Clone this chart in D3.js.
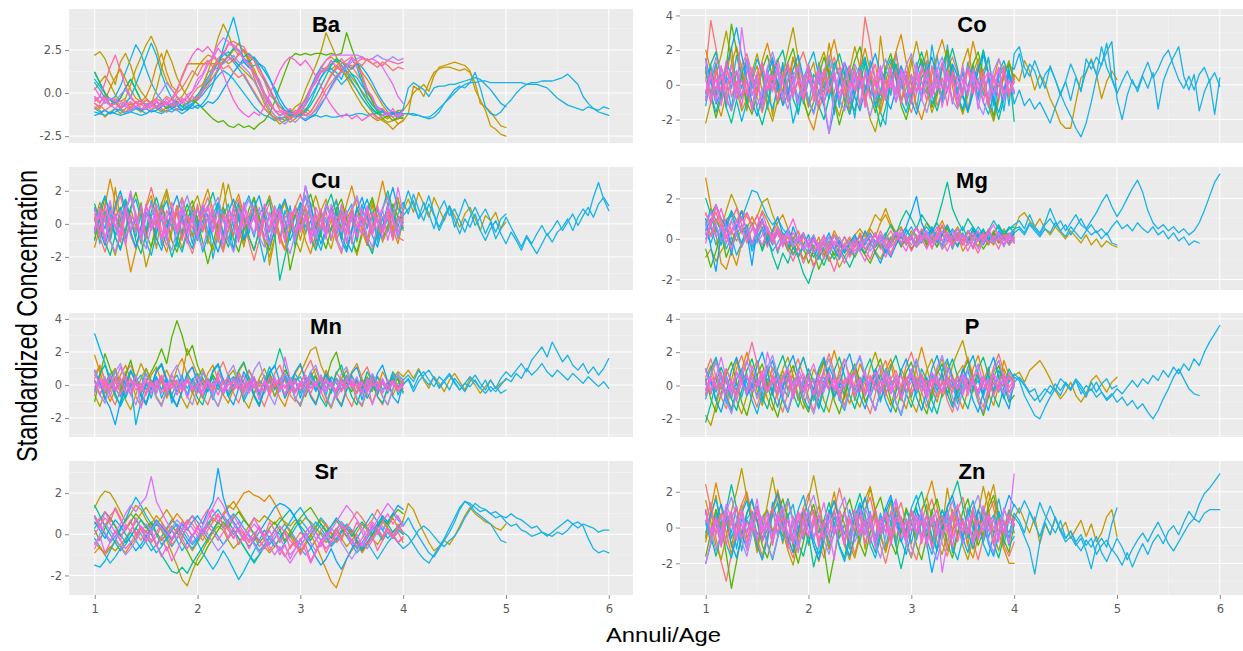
<!DOCTYPE html>
<html>
<head>
<meta charset="utf-8">
<script src="https://cdn.jsdelivr.net/npm/d3@7"></script>
<style>
  html, body { margin: 0; padding: 0; background: #ffffff; }
  svg { display: block; }
</style>
</head>
<body>
<script>
// Standardized trace-element profiles along otolith annuli, one line per fish.
// Every series starts at annulus 1 and is sampled every AGE_STEP annuli.
const AGE_START = 1;
const AGE_STEP = 0.05;
const xTicks = [1, 2, 3, 4, 5, 6];

const fishColors = ["#F8766D","#DE8C00","#B79F00","#53B400","#00C094","#00B6EB","#06A4FF","#A58AFF","#DF70F8","#FB61D7","#FF66A8","#F564E3"];
const GOLD = "#C49A00";
const CYAN = "#19B2E6";

// ---------------- Ba ----------------
const baTicks = [-2.5, 0, 2.5];
const baRange = [-2.9, 4.88];
const baShort = [
[-0.3,-0.6,-0.1,-0.7,-0.3,-0.8,-0.4,-0.9,-0.5,-1.0,
 -0.6,-1.0,-0.5,-0.9,-1.1,-0.6,-1.0,-0.4,-0.7,-0.1,
 0.3,0.5,1.2,1.4,2.0,2.3,2.9,3.0,2.8,2.7,
 2.1,1.9,1.2,0.7,-0.1,-0.4,-1.0,-1.1,-1.2,-1.2,
 -0.9,-0.7,0.2,0.6,1.3,1.4,1.9,1.5,2.0,1.6,
 1.6,1.1,0.7,0.0,-0.3,-0.9,-1.0,-1.4,-1.1,-1.5,
 -1.2],
[-0.6,-0.9,-0.4,0.3,0.9,1.4,0.8,0.2,-0.3,-0.5,
 -0.2,0.5,1.6,2.3,1.2,0.4,0.1,1.0,1.7,1.7,
 1.7,1.7,1.7,1.7,1.7,1.8,2.1,2.5,2.9,2.4,
 1.9,1.2,0.5,-0.2,-0.7,-1.0,-1.3,-1.1,-1.4,-1.0,
 -1.2,-0.9,-1.1,-0.6,-0.1,0.5,1.1,1.5,1.3,1.7,
 1.4,1.8,1.2,0.8,0.3,-0.2,-0.7,-1.1,-1.4,-1.8,
 -1.6],
[2.2,2.4,2.0,1.2,0.5,1.8,2.3,1.6,0.6,0.1,
 -0.3,-0.6,0.2,1.4,2.5,1.8,0.9,0.3,-0.2,-0.5,
 -0.3,0.4,1.2,2.1,3.2,4.0,3.4,2.6,2.2,2.5,
 1.8,0.9,0.1,-0.6,-1.1,-1.5,-1.8,-1.6,-1.2,-0.8,
 -0.6,0.2,0.9,1.6,2.4,3.5,2.8,2.1,1.4,0.9,
 0.3,-0.2,-0.7,-1.1,-1.4,-1.6,-1.5,-1.7,-1.6,-1.5,
 -1.4],
[1.2,0.6,0.0,-0.4,-0.6,-0.3,0.3,0.8,0.2,-0.4,
 -0.7,-0.5,-0.8,-0.6,-0.9,-0.7,-0.5,-0.8,-0.6,-0.4,
 -0.6,-0.9,-1.2,-1.5,-1.7,-1.6,-1.9,-2.0,-1.8,-2.0,
 -1.9,-2.1,-1.8,-1.6,-1.2,-0.5,0.4,1.2,2.0,2.3,
 2.2,2.3,2.2,2.3,2.3,2.2,2.3,2.2,2.3,3.5,
 2.6,1.8,0.9,0.2,-0.5,-1.1,-1.5,-1.3,-1.6,-1.4,
 -1.5],
[1.2,0.6,0.0,-0.4,-0.6,-0.3,0.3,0.8,0.2,-0.4,
 -0.7,-0.5,-0.8,-0.6,-0.9,-0.7,-0.5,-0.8,-0.6,-0.4,
 -0.1,0.3,0.6,0.9,1.3,1.8,2.2,2.6,2.5,2.1,
 2.3,2.0,1.5,0.8,0.2,-0.4,-0.8,-1.0,-1.3,-1.2,
 -1.4,-1.1,-0.7,-0.2,0.4,1.0,1.6,2.0,1.8,1.5,
 1.1,0.6,0.0,-0.5,-0.9,-1.2,-1.0,-1.3,-1.1,-1.2,
 -1.0],
[0.6,0.2,-0.3,-0.7,-0.5,-0.9,-0.6,-0.2,0.5,1.3,
 2.1,2.9,2.2,1.1,0.3,-0.3,-0.6,-0.8,-1.0,-0.7,
 -0.9,-0.6,-0.2,0.5,1.5,2.6,3.5,4.4,3.2,1.8,
 1.5,1.6,1.7,1.5,0.9,0.1,-0.6,-1.0,-1.2,-1.4,
 -1.3,-1.0,-0.5,0.2,0.9,1.3,1.4,1.2,0.8,1.6,
 2.0,1.5,0.6,-0.2,-0.7,-1.0,-1.1,-1.3,-1.2,-1.4,
 -1.3],
[-1.1,-1.2,-1.0,-1.2,-1.1,-0.9,-1.1,-1.0,-0.8,-1.0,
 -0.9,-1.1,-1.0,-0.8,-0.6,-0.9,-0.7,-1.0,-0.8,-0.9,
 -0.7,-0.8,-0.5,-0.6,-0.3,0.2,0.7,1.2,1.6,2.0,
 1.8,2.1,1.7,1.3,0.8,0.3,-0.3,-0.8,-1.1,-1.3,
 -1.4,-1.6,-1.4,-1.2,-0.7,-0.2,0.4,0.9,1.3,1.6,
 1.4,1.7,1.5,1.1,0.6,0.0,-0.5,-0.9,-1.2,-1.1,
 -1.3],
[-0.4,-0.2,-0.6,-0.3,-0.5,-0.1,0.2,-0.3,-0.6,-0.4,
 -0.7,-0.5,-0.3,0.1,0.6,0.2,-0.2,-0.5,-0.7,-0.4,
 -0.2,0.2,0.8,1.3,1.5,1.7,1.9,2.2,1.8,1.5,
 1.2,0.7,0.1,-0.4,-0.9,-1.3,-1.6,-1.8,-1.5,-1.7,
 -1.4,-1.5,-1.3,-1.0,-0.6,-0.2,0.3,0.8,1.2,1.5,
 1.8,2.0,2.1,1.9,2.0,2.2,2.0,1.9,2.1,1.9,
 2.0],
[-0.6,-0.8,-0.5,-0.7,-0.9,-0.6,-0.8,-1.0,-0.8,-0.6,
 -0.9,-0.7,-0.5,-0.8,-0.6,-0.4,-0.7,-0.5,-0.3,0.1,
 0.5,1.0,1.6,2.2,2.8,3.2,3.0,2.7,2.4,2.0,
 1.6,1.1,0.5,-0.1,-0.6,-1.0,-1.3,-1.2,-1.5,-1.3,
 -1.1,-0.6,0.1,0.8,1.4,1.9,2.2,2.2,2.2,2.2,
 2.2,2.2,2.1,1.9,2.0,1.8,1.5,1.0,0.5,-0.2,
 -0.6],
[-0.2,-0.5,-0.3,-0.7,-0.6,-0.9,-0.7,-0.5,-0.8,-0.6,
 -0.4,-0.6,-0.8,-0.5,-0.7,-0.3,0.2,0.9,1.6,2.2,
 2.6,2.4,2.7,2.3,1.8,1.1,0.3,-0.4,-0.9,-1.2,
 -1.4,-1.1,-1.3,-0.8,-0.1,0.6,1.3,1.8,2.1,1.9,
 1.6,1.9,1.5,1.0,0.4,-0.2,-0.7,-1.1,-1.4,-1.2,
 -1.5,-1.3,-1.6,-1.4,-1.2,-1.5,-1.3,-1.1,-1.4,-1.2,
 -1.3],
[-0.5,-0.2,0.6,1.5,2.2,1.3,0.4,-0.2,-0.6,-0.4,
 -0.8,-0.6,-0.9,-0.7,-0.5,-0.8,-0.6,-0.3,-0.5,-0.2,
 -0.4,0.1,0.4,0.9,1.4,1.9,2.1,1.8,2.3,2.5,
 2.2,1.9,1.4,0.9,0.3,-0.3,-0.8,-1.1,-0.9,-1.2,
 -1.0,-1.3,-1.1,-0.6,-0.1,0.5,1.0,1.4,1.7,1.9,
 2.1,1.8,2.0,1.9,1.7,1.8,1.6,1.9,1.8,1.7,
 1.8],
[0.3,-0.2,-0.3,-0.3,-0.5,-0.5,-0.6,-1.0,-0.5,-0.9,
 -0.9,-0.8,-0.4,-0.8,-0.3,-0.7,-0.2,-0.6,-0.1,0.1,
 0.8,1.1,1.8,2.0,2.6,2.2,2.8,2.8,2.5,1.9,
 1.7,1.1,0.8,0.0,-0.4,-1.0,-1.1,-1.1,-1.2,-1.2,
 -0.7,-0.5,0.3,0.6,1.2,1.3,1.9,1.5,1.4,1.6,
 2.0,1.5,1.1,0.2,-0.2,-0.9,-0.9,-1.3,-0.9,-1.4,
 -1.0],
[-0.9,-0.7,-1.0,-0.8,-0.6,-0.9,-1.1,-0.8,-0.5,-0.7,
 -0.4,-0.6,-0.3,-0.5,-0.2,-0.4,0.0,0.3,0.8,1.3,
 1.0,1.6,1.9,1.5,1.8,1.4,1.6,1.2,0.9,1.1,
 0.6,0.1,-0.4,-0.9,-1.2,-1.4,-1.6,-1.3,-1.5,-1.2,
 -1.4,-1.1,-1.3,-0.9,-0.4,0.2,0.6,1.0,1.3,1.1,
 1.5,1.8,1.6,2.0,1.7,1.5,1.8,1.6,1.3,1.5,
 1.4]
];
const baLong = [
[-0.8,-1.0,-1.4,-1.1,-0.9,-1.2,-0.9,-0.6,-0.9,-1.1,
 -0.8,-0.5,-0.9,-1.1,-0.8,-0.6,-0.4,-0.2,0.3,0.9,
 1.5,1.9,2.2,2.1,1.8,2.0,1.7,1.9,1.6,1.3,
 1.0,0.7,0.2,-0.4,-0.9,-1.3,-1.5,-1.4,-1.7,-1.5,
 -1.2,-0.6,0.1,0.8,1.2,1.5,1.4,1.6,1.3,1.0,
 0.6,0.2,-0.3,-0.7,-1.1,-1.4,-1.6,-1.8,-2.1,-1.8,
 -1.6,
 -1.2,0.4,0.2,0.5,0.1,1.0,1.5,1.6,1.7,1.8,
 1.7,1.6,1.3,0.2,-0.4,-1.0,-1.9,-2.1,-2.4,-2.5],
[0.2,0.6,1.0,0.5,-0.1,-0.5,-0.3,0.5,1.4,2.1,
 2.8,3.3,2.6,1.5,0.7,0.2,-0.2,-0.6,-0.9,-0.7,
 -0.4,0.1,0.6,1.2,1.8,2.4,2.1,1.9,2.2,2.5,
 2.0,1.4,0.7,0.0,-0.6,-1.0,-1.3,-1.1,-1.4,-1.2,
 -0.8,-0.3,0.3,0.9,1.5,1.9,2.1,1.8,1.6,1.3,
 0.9,0.5,0.1,-0.3,-0.7,-1.0,-1.3,-1.5,-1.2,-1.0,
 -1.0,
 -0.6,0.0,0.3,-0.2,0.6,1.2,1.4,1.5,1.5,1.4,
 1.3,1.4,1.2,0.6,-0.6,-0.8,-1.1,-1.5,-1.9,-2.0],
[0.8,0.4,0.0,-0.4,-0.2,0.4,1.2,2.0,2.8,2.3,
 1.4,0.6,0.0,-0.4,-0.6,-0.9,-0.7,-1.0,-0.8,-0.6,
 -0.2,0.4,0.9,1.3,1.8,2.2,2.4,2.0,1.6,1.8,
 1.5,1.2,0.6,0.0,-0.6,-1.0,-1.3,-1.2,-1.0,-1.3,
 -1.1,-0.7,-0.2,0.3,0.9,1.4,1.2,0.9,0.5,0.8,
 1.1,0.9,0.4,0.0,-0.4,-0.8,-1.0,-1.2,-1.1,-1.3,
 -0.9,
 0.3,0.6,0.4,0.2,-0.2,0.3,0.4,0.4,0.5,0.5,
 0.6,0.7,0.8,0.9,0.8,0.5,0.2,-0.2,-0.6,-0.8],
[-0.9,-1.1,-1.0,-1.2,-0.9,-1.0,-1.2,-1.1,-0.9,-1.0,
 -1.2,-1.0,-0.8,-1.0,-1.1,-0.9,-1.0,-1.2,-1.0,-0.7,
 -0.3,0.2,0.8,1.5,2.0,2.3,2.1,1.8,1.4,1.0,
 0.5,0.0,-0.5,-0.9,-1.2,-1.5,-1.4,-1.6,-1.5,-1.3,
 -0.9,-0.4,0.3,1.0,1.5,1.3,1.7,1.9,1.6,1.2,
 0.7,0.2,-0.3,-0.7,-1.0,-1.2,-1.1,-1.3,-1.2,-1.1,
 -1.2,
 -1.2,-1.3,-1.3,-1.4,-1.5,-1.4,-1.1,-0.6,-0.2,0.2,
 0.4,0.3,0.6,1.2,0.3,-0.8,-1.2,-1.3,-1.1,-0.7,
 -0.4,0.0,0.3,0.5,0.6,0.6,0.7,0.7,0.7,0.8,
 0.9,1.1,0.8,0.5,-0.2,-0.6,-0.9,-1.1,-1.2,-1.3],
[-1.3,-1.2,-1.3,-1.1,-1.2,-1.3,-1.2,-1.1,-1.2,-1.3,
 -1.2,-1.0,-1.1,-1.2,-1.0,-1.1,-0.9,-1.0,-0.8,-0.6,
 -0.4,-0.1,0.3,0.6,1.0,1.3,1.1,0.8,0.4,0.0,
 -0.4,-0.8,-1.1,-1.3,-1.4,-1.6,-1.5,-1.4,-1.5,-1.3,
 -1.2,-1.3,-1.4,-1.3,-1.4,-1.3,-1.4,-1.4,-1.3,-1.3,
 -1.3,-1.2,-1.2,-1.3,-1.2,-1.2,-1.3,-1.2,-1.2,-1.2,
 -1.2,
 -1.2,-1.2,-1.3,-1.4,-1.4,-1.2,-0.9,-0.6,-0.3,0.0,
 0.3,0.5,0.6,0.6,0.7,0.7,0.6,0.6,0.6,0.6,
 0.6,0.6,0.6,0.5,0.5,0.5,0.4,0.3,0.0,-0.3,
 -0.5,-0.7,-0.8,-0.9,-1.0,-0.8,-0.9,-1.0,-0.8,-0.9]
];
const baLongColors = [GOLD, GOLD, CYAN, CYAN, CYAN];

// ---------------- Co ----------------
const coTicks = [-2, 0, 2, 4];
const coRange = [-3.35, 4.37];
const coShort = [
[0.9,3.7,2.1,0.4,-0.8,-1.5,-0.2,1.1,1.8,0.6,
 -0.7,-1.6,-0.4,0.9,1.5,0.3,-1.0,-0.3,1.2,1.9,
 0.8,-0.5,-1.4,-0.6,0.7,1.6,0.5,-0.9,-1.7,-0.4,
 1.0,3.9,2.3,0.2,-1.1,-0.3,1.0,1.7,0.4,-0.8,
 -1.6,-0.5,0.8,1.4,0.2,-1.2,-0.4,0.9,1.6,0.7,
 -0.6,-1.4,-0.2,1.1,0.3,-1.0,-1.8,-0.6,0.8,1.3,
 0.4],
[2.0,0.8,-0.9,-1.8,-0.5,1.2,2.2,1.0,-0.4,-1.3,
 -0.2,1.4,2.4,1.1,-0.3,-1.1,0.2,1.6,0.5,-0.8,
 -1.9,-2.6,-1.2,0.3,1.5,2.6,1.2,-0.2,-1.5,-0.6,
 0.9,2.1,0.8,-0.7,-1.6,-0.4,0.8,1.9,2.9,1.3,
 0.1,-1.2,-2.0,-0.9,0.6,1.7,2.6,1.4,-0.1,-1.3,
 -0.5,0.9,2.5,1.2,-0.2,-1.1,0.3,1.5,0.6,-0.7,
 0.6],
[-2.2,-1.0,0.6,1.7,3.1,1.4,-0.2,-1.5,-0.8,0.7,
 1.8,0.5,-1.2,-2.1,-0.9,0.6,2.0,3.3,1.5,0.0,
 -1.3,-0.4,1.1,1.9,0.7,-0.9,-1.8,-0.6,0.8,2.2,
 1.0,-0.5,-2.0,-2.7,-1.3,0.2,1.3,0.4,-1.0,-0.2,
 1.2,2.5,1.1,-0.3,-1.6,-0.7,0.9,1.8,0.6,-0.8,
 -1.7,-0.6,0.7,1.5,0.3,-1.2,-2.1,-0.9,0.5,1.4,
 0.1],
[0.8,-0.6,-1.9,-0.7,1.0,3.5,2.0,0.5,-1.0,-1.7,
 -0.5,0.9,1.7,0.4,-1.1,-0.3,1.3,2.1,0.7,-0.9,
 -1.8,-1.0,0.5,1.6,0.6,-1.0,-2.3,-1.2,0.4,1.4,
 2.2,0.9,-0.6,-1.6,-0.4,1.0,1.8,0.5,-1.2,-2.0,
 -0.8,0.6,1.5,0.3,-1.3,-0.5,1.1,2.0,0.8,-0.7,
 -1.5,-0.3,1.2,1.9,0.6,-0.9,-1.8,-0.7,0.6,1.2,
 0.3],
[-0.5,1.2,1.9,0.4,-1.3,-2.2,-0.9,0.6,1.5,0.2,
 -1.4,-2.3,-1.1,0.5,1.4,2.0,0.6,-0.8,-1.6,-0.3,
 1.1,0.2,-1.2,-2.0,-0.7,0.9,1.8,0.7,-0.9,-1.5,
 0.1,1.3,0.4,-1.1,-2.4,-1.3,0.3,1.2,0.2,-1.0,
 -0.3,1.0,1.9,0.8,-0.6,-1.5,-0.4,1.0,2.1,0.9,
 -0.7,-1.6,-0.5,0.8,2.0,0.7,-0.9,-2.0,-0.8,0.9,
 -2.1],
[1.0,-0.5,-1.6,-0.4,1.3,0.6,-0.9,-2.1,-1.0,0.4,
 1.5,0.7,-0.6,-1.4,-0.2,1.1,-0.3,-2.2,-1.1,0.3,
 1.2,1.9,0.5,-1.0,-0.1,1.3,0.4,-0.8,-1.7,-0.5,
 0.9,1.6,0.2,-1.2,-0.4,0.8,1.5,0.3,-0.9,-1.6,
 -0.5,0.7,1.3,0.1,-1.1,-0.3,1.0,1.7,0.5,-0.6,
 -1.4,-0.2,0.9,0.2,-1.0,-1.7,-0.6,0.7,1.4,0.4,
 -0.4],
[1.5,0.2,-1.1,-0.4,1.0,2.1,3.3,1.7,0.3,-1.0,
 -1.8,-0.7,0.6,1.4,0.1,-1.2,-0.5,0.9,1.7,0.4,
 -0.9,-1.6,-0.3,-1.2,-2.8,-1.4,0.1,1.3,0.5,-0.7,
 -1.5,-0.3,1.0,1.8,0.6,-0.8,-1.4,-0.2,1.1,0.3,
 -0.9,-1.7,-0.6,0.8,1.6,0.4,-1.1,-0.3,1.2,0.5,
 -0.6,-1.5,-0.4,0.9,1.7,0.6,-0.8,-1.6,-0.5,0.8,
 -0.5],
[-0.9,0.5,1.6,0.6,-0.7,-1.5,-0.3,0.9,1.5,0.2,
 -1.2,-0.4,1.0,1.9,0.7,-0.6,-1.4,-0.2,1.1,0.4,
 -0.9,-1.7,-0.5,0.8,1.7,0.5,-0.8,-1.5,-0.1,1.2,
 0.5,-0.9,-1.8,-0.6,0.7,1.5,0.3,-1.0,-0.2,1.1,
 1.8,0.6,-0.8,-1.6,-0.4,0.9,1.6,0.4,-0.9,-1.4,
 -0.2,1.0,0.3,-1.1,-1.7,-0.5,0.8,1.5,0.6,-0.6,
 0.2],
[1.5,-0.8,0.4,-1.2,0.9,0.2,-0.5,3.3,1.1,-0.6,
 0.5,-1.3,0.8,-0.2,1.2,-0.9,0.4,0.6,-1.1,0.3,
 1.0,-0.5,0.7,-0.9,-2.8,-0.4,0.6,1.3,-0.3,0.5,
 -1.2,0.8,0.1,-0.7,1.1,-0.4,0.3,-1.0,0.9,0.2,
 -0.5,1.2,-0.9,0.4,-0.2,1.0,-1.3,0.5,0.2,-0.8,
 1.1,-0.3,0.6,-1.4,0.2,0.8,-0.6,1.0,-0.9,0.3,
 -0.5],
[-0.9,0.6,-0.3,1.1,-1.0,0.4,0.8,-0.6,0.2,-1.5,
 0.7,1.3,-0.4,0.5,-0.9,0.2,1.0,-0.7,0.4,-0.2,
 1.2,-1.0,0.3,0.8,-0.5,0.6,-0.8,0.1,1.1,-0.3,
 0.5,-1.3,0.9,-0.1,0.4,-0.9,1.0,-0.6,0.3,0.8,
 -1.1,0.4,-0.3,0.9,-0.7,0.2,1.3,-0.4,0.6,-1.2,
 0.3,0.9,-0.5,0.2,-1.0,0.7,0.4,-0.8,1.0,-0.4,
 0.2],
[0.3,-1.1,0.9,-0.4,1.4,-0.7,0.2,-1.3,0.8,0.5,
 -0.6,1.1,-0.2,0.6,-1.0,0.4,1.3,-0.5,0.2,-0.9,
 0.7,0.3,-1.2,0.9,-0.4,0.5,1.0,-0.7,0.2,-0.3,
 0.8,-1.0,0.4,1.2,-0.6,0.3,-0.2,0.9,-1.1,0.5,
 -0.4,0.7,0.2,-0.9,1.1,-0.3,0.4,-1.2,0.8,0.1,
 -0.6,1.0,-0.4,0.3,0.8,-1.3,0.5,-0.1,0.7,-0.6,
 0.5],
[-0.4,0.7,-1.0,0.5,-0.3,1.2,-0.8,0.3,-0.6,1.0,
 0.2,-1.2,0.6,-0.4,0.9,0.3,-0.9,0.5,1.1,-0.7,
 0.4,-0.2,1.0,-1.0,0.3,0.7,-0.5,0.2,-1.1,0.8,
 -0.2,0.6,-0.8,0.4,1.0,-0.6,0.2,-0.3,0.9,-1.0,
 0.6,-0.5,1.1,0.1,-0.7,0.4,-0.2,0.8,-1.0,0.5,
 0.2,-0.6,0.9,-0.3,0.5,-0.9,0.3,1.0,-0.5,0.2,
 -0.3]
];
const coLong = [
[0.7,-0.6,1.3,-1.1,0.4,2.2,-0.3,0.8,-1.5,0.3,
 1.1,-0.4,0.6,-1.8,0.2,0.9,-0.7,1.6,0.1,-0.9,
 0.5,1.3,-0.6,0.3,2.4,0.6,-1.0,0.4,-0.3,1.0,
 -1.4,0.7,0.2,-0.8,2.8,0.5,-0.5,1.2,-0.9,0.3,
 1.6,-0.4,0.7,2.0,-0.2,0.4,-1.1,0.9,0.3,-0.6,
 1.2,2.1,0.4,-0.7,0.8,1.5,-0.3,0.6,1.1,-0.5,
 0.6,
 0.2,1.4,0.8,-0.3,0.6,0.1,-0.8,-1.4,-2.2,-2.5,
 -2.5,-1.0,0.4,0.7,1.5,0.6,-0.8,0.2,0.8,0.3],
[-1.2,0.4,-0.7,1.0,0.3,-1.4,0.8,-0.2,1.5,-0.6,
 0.2,-1.0,0.9,1.6,-0.3,0.4,-0.9,0.7,-1.7,0.3,
 0.9,-0.5,1.3,0.2,-0.8,0.5,-1.3,0.6,1.1,-0.4,
 0.2,-0.9,1.4,0.3,-1.6,-2.3,0.5,1.0,-0.2,0.6,
 -0.8,1.3,0.2,-0.5,2.3,0.6,-1.0,0.4,1.1,-0.3,
 0.7,-1.5,0.2,1.2,-0.6,0.4,-2.0,0.5,0.9,-1.2,
 1.8,
 2.2,1.0,0.5,1.4,0.6,-0.2,1.1,0.3,-0.6,0.2,
 1.2,0.5,-0.4,1.5,0.9,1.6,1.1,2.4,0.4,-0.4],
[0.4,1.1,-0.5,0.2,-1.3,0.7,0.1,-0.8,1.2,-0.2,
 0.6,-1.5,0.3,0.8,-0.4,1.3,-0.7,0.2,0.9,-1.1,
 0.3,-0.6,1.0,-0.2,0.5,-1.7,0.4,1.2,-0.3,-1.9,
 0.6,1.5,-0.5,0.2,-1.0,0.8,0.3,-0.4,1.0,-1.2,
 0.5,0.1,-0.7,1.4,-0.3,0.6,-1.0,2.3,0.2,-0.5,
 0.8,-0.2,1.2,-0.9,0.4,1.6,-0.4,0.3,-1.5,0.7,
 -1.1,
 -0.3,-1.2,-0.8,-1.4,-1.0,-1.6,-2.2,-1.3,-0.5,-1.2,
 -1.8,-2.5,-3.0,-2.2,-1.0,0.4,1.2,1.9,2.5,-0.8,
 -2.0,-0.6,0.3,-0.4,0.5,-0.2,0.7,-1.4,0.2,1.0,
 1.6,2.2,0.5,-0.3,0.6,-1.5,-0.4,0.3,-1.7,0.4],
[-0.7,0.3,1.2,-0.9,0.5,-0.2,1.7,0.4,-1.0,0.6,
 -0.3,0.9,-1.4,0.2,0.7,-0.6,1.1,0.3,-0.8,0.5,
 -1.2,0.6,0.1,-0.4,1.4,-0.9,0.2,0.8,-1.6,0.4,
 1.1,-0.2,0.5,-1.3,0.9,0.3,-0.6,1.9,0.1,-0.7,
 0.6,-1.4,0.4,1.0,-0.5,1.7,-0.2,0.6,-1.1,0.8,
 -0.4,1.3,0.3,-0.8,2.0,0.5,-1.2,0.7,-0.3,1.1,
 0.9,
 1.8,0.4,1.2,0.8,-0.2,0.6,1.0,0.3,-0.5,0.2,
 -0.9,0.4,-0.3,0.8,1.4,0.6,2.2,1.0,0.3,-0.5,
 0.2,0.8,0.1,-0.2,0.6,1.3,0.4,0.9,1.6,2.0,
 1.1,0.3,-0.2,0.5,-0.3,0.6,1.0,0.2,0.7,-0.1]
];
const coLongColors = [GOLD, CYAN, CYAN, CYAN];

// ---------------- Cu ----------------
const cuTicks = [-2, 0, 2];
const cuRange = [-4.0, 3.44];
const cuShort = [
[0.6,-0.8,-1.7,-0.6,0.9,1.7,0.5,-0.7,-1.5,-0.2,
 1.1,2.2,1.0,-0.4,-1.3,-0.2,1.1,0.3,-1.0,-1.8,
 -0.6,0.8,1.6,0.5,-0.9,-1.7,-0.4,0.9,1.5,0.2,
 -1.1,-2.2,-1.0,0.4,1.3,0.3,-0.9,-1.6,-0.3,1.0,
 1.8,0.6,-0.7,-1.4,-0.2,1.2,0.4,-1.0,-1.8,-0.5,
 0.8,1.5,0.3,-1.1,-1.6,-0.4,0.9,1.7,0.5,-0.8,
 -1.0],
[-1.4,-0.2,1.1,2.7,1.3,-0.1,-1.2,-2.9,-1.6,-0.3,
 1.0,1.7,0.4,-0.9,-1.7,-0.5,0.8,1.6,0.5,-0.8,
 -0.1,1.2,2.1,0.8,-0.6,-1.5,-0.3,1.0,1.8,0.5,
 -0.8,-1.6,-0.4,0.9,1.7,0.6,-0.7,-1.5,-0.2,1.1,
 0.3,-1.0,-1.8,-0.6,0.8,1.5,0.3,-1.0,-0.2,1.2,
 2.3,1.0,-0.4,-1.3,-0.1,1.2,2.6,1.1,-0.3,-1.2,
 0.3],
[0.2,1.3,0.4,-1.0,-1.9,-0.6,0.8,1.8,0.6,-0.9,
 -2.6,-1.4,0.1,1.2,2.1,0.8,-0.5,-1.5,-0.3,1.0,
 1.7,0.5,-0.9,-1.6,-0.3,1.1,2.4,1.0,-0.4,-1.3,
 -0.1,1.0,0.2,-1.1,-2.0,-0.8,0.5,1.4,0.3,-0.9,
 -1.7,-0.5,0.8,1.7,0.6,-0.8,-1.5,-0.2,1.1,0.3,
 -1.0,-1.9,-0.7,0.6,1.4,0.2,-1.1,-0.3,1.0,1.6,
 -0.4],
[-0.9,0.4,1.6,0.5,-0.8,-1.5,-0.3,1.0,1.9,0.7,
 -0.6,-1.4,-0.2,1.1,0.3,-1.0,-1.7,-0.5,0.8,1.4,
 0.2,-1.1,-2.4,-1.2,0.1,1.0,0.2,-0.9,-1.7,-0.4,
 0.9,1.6,0.4,-0.9,-1.6,-0.3,1.0,-0.4,-2.8,-1.4,
 0.0,1.1,1.8,0.6,-0.7,-1.5,-0.3,0.9,1.5,0.3,
 -1.0,-1.7,-0.5,0.8,1.6,0.4,-0.9,-0.1,1.2,0.4,
 0.4],
[1.2,0.1,-1.1,-1.9,-0.7,0.8,1.5,0.3,-1.0,-1.8,
 -0.6,0.7,1.6,0.5,-0.8,-2.0,-1.0,0.3,1.2,0.2,
 -1.0,-0.2,1.0,1.9,0.7,-0.6,-1.4,-0.2,1.1,0.4,
 -0.8,-1.6,-0.4,0.9,1.5,-0.6,-3.4,-2.0,-0.6,0.5,
 1.3,0.3,-0.9,-1.6,-0.4,1.0,1.8,0.6,-0.7,-1.5,
 -0.3,1.0,0.2,-1.1,-1.8,-0.5,0.9,2.0,0.8,-0.5,
 -0.2],
[-0.3,0.9,1.7,0.5,-0.8,-1.6,-0.4,0.9,1.5,0.3,
 -1.1,-1.9,-0.6,0.7,1.4,0.2,-1.0,-1.7,-0.5,0.8,
 -0.1,-1.7,-0.8,0.5,1.3,0.3,-0.9,-1.5,-0.3,1.0,
 1.7,0.5,-0.9,-2.3,-1.1,0.3,1.2,0.2,-1.0,-0.2,
 1.0,1.7,0.5,-0.8,-1.6,-0.4,0.9,1.4,0.2,-1.0,
 -1.7,-0.5,0.7,1.5,0.4,-0.9,-0.2,1.0,0.3,-0.8,
 0.1],
[0.9,-0.4,-1.3,-0.2,1.1,2.0,0.8,-0.5,-1.4,-0.2,
 1.0,0.3,-0.9,-1.6,-0.4,0.9,1.7,0.5,-0.8,-1.5,
 -0.3,1.1,0.4,-0.9,-1.7,-0.6,0.7,1.5,0.3,-1.0,
 -0.2,1.0,1.7,0.4,-1.3,-0.5,0.8,1.5,0.4,-0.9,
 0.5,2.3,1.1,-0.2,-1.2,-0.3,1.0,0.2,-1.0,-1.7,
 -0.5,0.8,1.6,0.5,-0.7,-1.4,-0.2,1.1,2.2,0.9,
 0.6],
[-0.5,1.0,0.2,-1.0,-1.7,-0.5,0.8,1.6,0.4,-0.8,
 -1.5,-0.2,1.2,0.4,-0.9,-1.6,-0.4,0.9,1.7,0.6,
 -0.7,-1.5,-0.3,1.0,1.6,0.3,-0.9,-1.7,-0.6,0.7,
 1.5,0.4,-0.8,-1.4,-0.2,1.1,0.3,-1.0,-1.8,-0.6,
 0.8,1.6,0.4,-0.9,-0.1,1.2,0.5,-0.8,-1.6,-0.4,
 0.9,1.7,0.5,-0.7,-1.4,-0.2,1.0,1.6,0.4,-0.9,
 0.7],
[0.9,-0.6,0.3,1.4,-0.2,-1.1,0.6,2.0,0.4,-0.7,
 1.1,-0.4,0.5,-1.0,0.8,0.2,-0.6,1.5,-0.2,0.4,
 -0.9,1.2,0.3,-0.5,0.8,-1.4,0.6,0.1,-0.8,1.3,
 0.2,-0.6,1.0,-0.3,-1.3,0.5,0.9,-0.2,0.6,-1.0,
 0.4,2.3,0.7,-0.6,0.3,-0.9,1.2,0.2,-0.5,0.8,
 -1.2,0.6,-0.2,1.1,-0.7,0.4,0.9,-1.0,0.3,2.2,
 0.6],
[-0.5,1.0,-0.9,0.4,-0.2,0.8,-1.3,0.5,0.1,-0.6,
 1.2,-0.3,0.7,-0.8,0.3,1.3,-0.5,0.2,-1.2,0.6,
 0.9,-0.4,1.1,0.2,-0.7,0.5,-0.3,1.0,-1.1,0.6,
 -0.2,0.4,-0.8,1.2,0.3,-0.6,0.8,-1.0,0.4,1.0,
 -0.3,0.6,-1.2,0.2,0.9,-0.4,0.5,-0.9,1.2,-0.1,
 0.4,-0.8,0.9,0.2,-0.6,1.1,-0.3,0.5,-1.0,0.3,
 0.7],
[0.4,-0.7,1.2,-0.2,0.6,-1.1,0.9,0.2,-0.5,1.1,
 -0.9,0.3,-0.2,1.0,-0.6,0.4,0.8,-1.0,0.5,-0.3,
 1.2,-0.5,0.3,0.9,-1.1,0.6,0.1,-0.7,1.0,-0.2,
 0.5,1.1,-0.8,0.3,-0.4,0.9,-1.2,0.4,0.7,-0.5,
 0.2,1.1,-0.7,0.5,-0.3,0.8,-1.0,0.3,0.6,-0.6,
 1.0,-0.2,0.4,-1.1,0.7,0.2,-0.5,0.9,-0.8,0.4,
 -0.1],
[-0.2,0.5,-1.1,0.8,0.3,-0.6,1.0,-0.4,0.6,-0.9,
 0.4,1.2,-0.3,0.5,-1.0,0.7,-0.2,0.9,-0.6,0.3,
 -0.8,0.6,1.1,-0.4,0.2,-1.0,0.8,0.4,-0.6,1.2,
 -0.3,0.5,0.1,-0.9,0.7,-0.2,0.6,-1.1,0.3,0.9,
 -0.5,0.4,-0.9,1.0,0.2,-0.6,0.8,-0.3,0.5,-1.2,
 0.6,0.2,-0.7,0.9,-0.4,0.3,-0.9,1.1,0.2,-0.5,
 0.4]
];
const cuLong = [
[1.0,-0.4,0.5,-1.0,2.2,0.3,-0.6,0.9,-0.2,1.3,
 -0.8,0.4,-1.5,0.6,1.9,-0.3,0.7,-0.9,0.2,1.1,
 -0.5,0.8,-1.2,0.3,0.9,2.5,0.4,-0.7,0.6,-1.4,
 0.2,1.0,-0.5,0.7,-2.5,-0.9,0.5,1.3,-0.2,0.6,
 -1.0,0.4,1.2,-0.3,0.8,-0.7,0.2,1.5,-0.6,0.3,
 0.9,-1.1,0.5,-0.2,1.2,-0.8,0.4,0.7,-0.4,1.4,
 0.8,
 1.5,0.7,1.9,1.2,0.4,1.6,0.9,0.2,1.1,0.5,
 -0.2,0.6,1.0,0.3,-0.4,0.5,0.2,0.7,-0.3,0.1],
[-1.0,0.6,-0.3,1.1,-0.8,0.2,1.4,-0.5,0.3,-1.2,
 0.7,0.1,-0.6,1.3,-0.2,0.5,-1.4,0.8,0.3,-0.7,
 1.0,-0.3,0.4,-2.1,-0.6,0.5,1.2,-0.2,0.7,-0.9,
 0.3,1.6,-0.4,0.6,-1.1,0.2,0.9,-0.5,1.1,-0.8,
 0.4,-0.2,1.3,-0.7,0.5,0.1,-1.0,0.8,-0.3,0.6,
 1.2,-0.5,0.2,-1.3,0.7,1.0,-0.4,0.3,-0.9,0.6,
 1.3,
 0.6,1.8,0.9,0.2,1.2,0.5,-0.4,0.3,1.0,-0.2,
 0.6,1.5,0.8,-0.1,0.4,0.9,0.2,-0.5,0.3,0.6],
[0.3,-1.2,0.8,-0.5,0.4,1.0,-0.9,0.2,-0.4,1.2,
 -0.6,0.5,0.9,-1.3,0.3,-0.2,1.1,-0.7,0.4,0.8,
 -1.0,0.2,0.6,-0.4,1.3,-0.8,0.3,-1.6,0.5,0.2,
 -0.6,1.1,0.4,-0.9,0.7,-0.3,1.0,-0.5,0.3,-1.4,
 0.6,0.9,-0.4,0.2,-0.8,1.1,0.4,-0.6,0.8,-0.2,
 0.5,-1.0,0.7,0.3,-0.6,0.9,-0.3,1.2,-0.7,0.2,
 0.5,
 0.9,1.4,0.3,0.8,1.7,0.6,-0.2,0.5,1.1,0.2,
 -0.6,0.3,-0.2,0.6,-0.4,-1.0,-0.3,0.2,-0.6,-1.2,
 -0.5,-1.0,-1.6,-0.8,-1.3,-1.8,-1.2,-0.6,-1.1,-0.5,
 -0.2,0.3,-0.4,0.4,0.9,0.5,1.6,2.5,1.5,0.8],
[-0.6,0.9,0.2,-1.1,0.5,-0.3,1.2,0.4,-0.8,0.6,
 -0.4,1.4,-0.2,0.3,-0.9,0.7,-0.5,1.0,0.2,-1.2,
 0.4,1.1,-0.6,0.3,-0.3,0.8,-1.1,0.5,1.3,-0.4,
 0.2,-0.8,0.6,1.0,-0.5,0.3,-1.0,0.8,-0.2,0.5,
 1.1,-0.6,0.2,-1.2,0.7,0.3,-0.4,1.0,-0.9,0.5,
 0.2,-0.7,1.2,-0.3,0.6,-1.1,0.4,-0.5,0.9,-0.2,
 1.0,
 2.0,1.1,0.4,1.3,0.6,-0.3,0.8,1.4,0.5,0.9,
 0.2,-0.5,0.4,1.0,0.3,-0.6,0.1,-0.9,-0.3,0.4,
 -0.2,-0.8,-1.4,-0.7,-1.2,-0.6,-0.1,-0.7,-0.3,0.2,
 -0.4,0.1,0.6,-0.1,0.5,1.0,0.4,1.2,1.6,1.1]
];
const cuLongColors = [GOLD, CYAN, CYAN, CYAN];

// ---------------- Mg ----------------
const mgTicks = [-2, 0, 2];
const mgRange = [-2.52, 3.55];
const mgShort = [
[1.2,0.8,1.3,0.6,1.0,0.4,0.9,1.4,1.1,0.7,
 0.3,0.8,0.5,0.1,0.4,-0.2,0.3,0.0,-0.4,0.1,
 -0.3,0.2,-0.5,-0.1,-0.6,-0.2,-0.7,-0.3,0.1,-0.4,
 -0.1,0.3,-0.2,0.2,-0.5,0.0,0.4,-0.1,0.3,-0.3,
 0.2,0.5,0.1,-0.2,0.4,0.0,-0.4,0.2,-0.1,0.3,
 -0.3,0.1,-0.5,0.0,0.2,-0.3,0.1,-0.2,0.3,-0.1,
 0.0],
[3.0,1.6,0.2,-1.2,-1.5,-0.6,-1.3,-0.2,0.5,1.1,
 0.6,1.4,0.9,0.3,0.8,1.2,0.5,0.0,0.4,-0.3,
 0.2,-0.5,0.1,-0.8,-0.3,0.4,-0.1,-0.6,0.0,-0.4,
 0.3,-0.2,0.5,0.1,0.8,1.2,0.6,0.2,-0.3,0.1,
 -0.5,-0.1,0.3,-0.4,0.0,0.4,0.9,0.3,-0.2,0.2,
 -0.6,-0.2,0.1,-0.4,0.3,-0.1,0.4,0.0,-0.3,0.2,
 -0.1],
[0.8,0.2,1.0,0.5,1.4,2.2,1.6,0.9,1.3,0.7,
 1.1,1.8,2.0,1.2,0.6,0.2,-0.3,-0.7,-0.4,-1.0,
 -0.6,-1.3,-0.8,-0.5,-1.1,-0.7,-1.4,-0.9,-0.5,-0.8,
 -0.3,-0.7,-0.2,-0.6,-1.0,-0.4,0.1,-0.3,0.2,-0.2,
 0.4,0.0,0.3,0.8,0.5,0.1,0.6,0.2,-0.2,0.3,
 -0.1,0.4,0.0,-0.4,0.1,-0.3,0.2,-0.1,0.3,0.1,
 0.2],
[-0.5,-1.4,-0.6,0.3,-0.9,-0.2,0.5,-0.4,0.2,0.8,
 0.1,-0.5,0.3,-0.2,0.6,0.0,-0.6,-0.1,-0.9,-0.4,
 -1.2,-0.6,-1.5,-0.9,-0.3,-0.8,-0.4,0.1,-0.5,-0.9,
 -0.4,-0.8,-1.2,-0.6,-0.2,-0.7,-0.3,0.2,-0.4,0.0,
 -0.5,-0.1,0.3,-0.3,0.1,-0.4,0.2,0.6,0.0,-0.3,
 0.2,-0.2,0.4,0.0,-0.5,-0.1,0.3,-0.2,0.1,-0.3,
 0.0],
[2.0,1.2,1.7,1.0,0.6,1.4,0.9,0.3,0.7,-0.2,
 0.4,-0.6,0.1,-0.8,-1.5,-0.7,-1.2,-0.4,-0.9,-1.7,
 -2.2,-1.4,-0.8,-1.3,-0.6,-1.0,-0.5,-0.9,-1.4,-0.8,
 -0.3,-0.7,-0.2,0.3,-0.4,0.2,0.7,0.2,0.9,1.4,
 1.0,0.5,1.2,0.8,0.3,0.9,1.8,2.8,1.5,0.9,
 0.4,1.0,0.6,0.1,0.5,-0.1,0.3,0.7,0.2,0.5,
 0.6],
[0.4,1.0,0.5,-0.3,0.6,1.2,0.4,-0.2,0.5,-0.6,
 0.0,0.6,-0.3,0.3,-0.7,0.1,0.5,-0.2,-0.8,-0.3,
 0.2,-0.6,-1.0,-0.4,0.1,-0.5,-0.9,-0.3,-0.7,-0.1,
 -0.6,-0.2,0.2,-0.4,0.1,-0.7,-0.2,0.3,-0.3,0.5,
 0.0,-0.4,0.4,-0.1,0.6,0.1,-0.3,0.3,-0.5,0.2,
 0.6,0.0,-0.4,0.3,-0.2,0.4,-0.1,0.2,-0.3,0.1,
 0.3],
[1.0,-0.4,-1.6,0.2,0.9,-0.8,0.6,1.4,0.3,-1.3,
 0.5,1.0,-0.2,0.4,1.1,0.2,-0.5,0.6,-0.1,0.3,
 -0.4,0.1,-0.7,-0.2,0.3,-0.5,-0.1,-0.6,-0.2,0.2,
 -0.3,0.4,-0.1,-0.7,-1.2,-0.5,-0.9,-0.3,0.2,0.6,
 1.3,2.1,0.8,0.2,0.5,-0.2,0.3,0.7,0.1,-0.4,
 0.2,-0.1,0.5,0.1,-0.3,0.2,-0.2,0.4,0.0,-0.2,
 0.3],
[0.6,1.3,0.7,-0.1,0.4,0.9,0.2,-0.4,0.3,0.7,
 -0.2,0.2,0.6,0.0,-0.5,-0.1,0.4,-0.3,0.1,-0.6,
 -0.2,0.2,-0.4,0.0,-0.7,-0.3,0.1,-0.5,-0.1,-0.8,
 -0.4,0.0,-0.6,-0.2,0.2,-0.3,-0.7,-0.1,0.3,-0.2,
 0.2,-0.4,0.0,0.4,-0.2,0.3,-0.5,0.1,0.4,-0.1,
 0.2,-0.3,0.1,-0.5,0.0,0.3,-0.2,0.1,-0.4,0.2,
 -0.1],
[0.2,0.7,0.1,0.6,-0.2,0.4,0.9,0.3,0.0,0.5,
 0.2,-0.3,0.4,0.1,0.6,-0.2,0.2,-0.4,0.0,0.3,
 -0.5,-0.1,-0.6,-0.2,0.1,-0.4,-0.8,-0.3,-0.6,-0.2,
 -0.5,-0.1,0.2,-0.3,0.1,-0.5,-0.1,0.3,-0.2,0.1,
 -0.3,0.2,-0.1,0.3,-0.4,0.0,0.4,-0.2,0.2,0.0,
 -0.3,0.1,0.3,-0.1,0.2,-0.2,0.0,0.3,-0.1,0.1,
 -0.2],
[0.5,0.1,0.8,1.5,0.6,0.2,0.9,0.4,1.3,0.7,
 0.3,0.9,0.4,0.0,0.5,0.2,-0.2,0.3,-0.1,0.1,
 -0.4,0.0,-0.3,0.2,-0.5,-0.1,-0.4,0.1,-0.3,-0.6,
 -0.2,-0.5,-0.1,0.2,-0.3,0.0,-0.4,-0.1,0.2,-0.2,
 0.1,-0.3,0.2,0.0,-0.2,0.2,-0.1,0.3,-0.3,0.0,
 0.2,-0.1,-0.4,0.0,0.3,-0.2,0.1,-0.1,0.2,0.0,
 0.1],
[1.3,0.6,1.6,0.8,0.0,0.9,1.5,0.7,-0.2,0.5,
 1.2,0.4,-0.4,0.3,-0.6,0.2,-0.5,-1.1,-0.4,-1.2,
 -0.6,-1.4,-0.7,-0.2,-0.9,-1.6,-0.8,-0.2,-0.9,-0.4,
 0.2,-0.5,-1.0,-0.3,0.4,-0.2,-0.8,-0.1,0.5,0.0,
 -0.6,-0.1,0.5,0.1,-0.5,0.2,0.7,0.1,-0.4,0.3,
 -0.3,0.4,-0.2,-0.7,-0.1,0.5,0.0,-0.5,0.2,-0.3,
 0.1],
[-0.2,0.9,1.7,0.9,0.2,-0.5,0.4,1.1,0.5,-0.3,
 0.6,1.3,0.5,-0.2,0.3,-0.4,0.4,1.0,0.2,-0.5,
 0.0,-0.7,-0.2,-1.0,-0.4,0.2,-0.5,-1.2,-0.6,0.0,
 -0.6,-1.1,-0.4,0.3,-0.3,-0.9,-0.3,0.4,-0.2,-0.6,
 0.1,0.6,0.0,-0.5,0.1,0.6,-0.1,-0.6,0.0,0.5,
 -0.1,-0.6,0.0,0.4,-0.2,0.3,0.7,0.1,-0.3,0.3,
 -0.2]
];
const mgLong = [
[-0.9,-0.5,-1.1,-0.6,-0.2,0.4,-0.1,0.5,0.2,-0.3,
 0.3,0.8,0.4,-0.1,0.3,-0.3,0.1,-0.5,-0.2,0.2,
 -0.3,-0.7,-0.2,0.1,-0.4,0.2,-0.1,-0.5,-0.2,0.2,
 0.5,0.1,0.6,1.2,0.9,1.5,0.8,0.3,0.6,0.0,
 0.2,-0.4,-0.1,0.3,-0.2,0.1,-0.5,-0.2,0.2,0.6,
 0.1,-0.3,0.2,-0.1,0.4,0.0,-0.3,0.2,0.5,0.1,
 0.4,
 1.1,1.3,0.9,0.6,1.0,0.5,0.2,0.6,0.3,0.0,
 0.4,0.1,-0.2,0.2,-0.3,0.0,-0.4,-0.1,-0.3,-0.4],
[0.3,-0.2,0.6,0.0,0.5,-0.3,0.2,0.7,0.1,-0.4,
 0.3,0.9,0.2,-0.3,0.4,0.0,-0.5,0.1,-0.2,0.3,
 -0.3,0.0,-0.6,-0.1,-0.4,0.2,-0.3,-0.7,-0.2,0.1,
 -0.4,0.0,0.3,-0.2,0.2,-0.5,0.0,0.4,0.1,-0.3,
 0.2,0.6,0.1,-0.2,0.3,0.8,0.2,-0.1,0.4,0.0,
 0.3,-0.2,0.5,0.1,0.4,0.0,0.3,0.6,0.2,0.5,
 0.7,
 0.9,0.5,1.2,0.6,0.3,0.8,1.5,0.9,0.4,0.7,
 0.2,0.6,1.0,0.5,0.2,0.4,0.0,0.3,-0.2,-0.3],
[0.7,1.5,0.9,0.4,0.9,1.3,0.6,1.0,1.7,2.4,
 2.3,1.7,1.1,0.7,1.0,0.5,0.2,-0.2,0.1,-0.3,
 -0.7,-0.3,-0.9,-0.5,-1.1,-0.6,-0.2,-0.7,-0.3,0.0,
 -0.5,-0.2,0.2,-0.1,-0.4,0.1,-0.2,0.3,0.0,0.4,
 0.1,-0.2,0.3,0.6,0.2,-0.1,0.3,0.1,0.5,0.2,
 -0.1,0.3,0.6,0.2,0.4,0.0,0.3,0.1,0.4,0.2,
 0.5,
 0.6,0.3,0.8,0.5,0.2,0.7,1.0,0.6,0.9,0.4,
 0.8,1.2,0.7,0.5,0.9,1.3,1.8,2.2,1.6,1.1,
 1.5,2.0,2.5,2.9,2.3,1.4,0.8,0.5,0.7,0.4,
 0.6,0.3,0.5,0.2,0.4,0.8,1.4,2.1,2.8,3.2],
[0.0,0.6,-0.3,0.4,-0.5,0.1,-0.8,-0.2,0.3,-0.4,
 -0.1,0.5,0.0,-0.6,-0.2,0.3,-0.3,-0.8,-0.4,-1.0,
 -0.5,-0.9,-0.3,-0.6,-0.1,-0.5,-1.0,-0.4,-0.8,-0.2,
 0.1,-0.3,0.2,-0.4,-0.1,0.3,-0.2,0.1,-0.3,0.2,
 0.6,0.1,-0.2,0.3,0.0,-0.4,0.2,0.5,0.0,0.3,
 -0.1,0.4,0.1,0.6,0.2,0.4,0.9,0.5,0.2,0.6,
 0.3,
 0.5,0.2,0.7,0.4,0.1,0.5,0.3,0.8,0.4,0.1,
 0.6,0.3,0.0,0.4,0.7,0.3,0.5,0.2,0.6,0.9,
 0.5,0.7,0.4,0.8,0.5,0.3,0.6,0.2,0.4,0.0,
 0.3,-0.1,0.1,-0.3,-0.1,-0.2]
];
const mgLongColors = [GOLD, CYAN, CYAN, CYAN];

// ---------------- Mn ----------------
const mnTicks = [-2, 0, 2, 4];
const mnRange = [-3.15, 4.36];
const mnShort = [
[0.4,1.1,0.3,-0.6,-1.2,-0.3,0.7,1.2,0.4,-0.5,
 -1.1,-0.2,0.8,1.3,0.4,-0.6,-1.3,-0.4,0.6,1.1,
 0.2,-0.7,-1.2,-0.3,0.8,1.4,0.5,-0.5,-1.1,-0.1,
 0.9,0.3,-0.6,-1.3,-0.4,0.7,1.2,0.3,-0.6,-1.0,
 0.0,0.9,1.5,0.6,-0.4,-1.1,-0.2,0.8,0.2,-0.7,
 -1.3,-0.4,0.6,1.1,0.2,-0.7,-1.2,-0.2,0.7,0.3,
 0.2],
[1.8,0.8,-0.2,-1.0,-0.3,0.6,1.2,0.3,-0.7,-1.3,
 -0.4,0.6,1.1,0.2,-0.8,-0.1,1.0,1.6,0.6,-0.4,
 -1.2,-0.3,0.7,1.2,0.3,-0.6,-1.1,-0.2,0.8,1.3,
 0.4,-0.6,-1.2,-0.3,0.7,0.1,-0.8,-1.3,-0.3,0.7,
 1.2,0.3,-0.6,-1.1,-0.1,0.9,0.2,-0.7,-1.2,-0.2,
 0.8,1.3,0.4,-0.5,-1.1,-0.2,0.8,0.2,-0.6,0.1,
 0.3],
[-0.6,-1.3,-0.4,0.6,1.0,0.1,-0.9,-1.5,-0.6,0.4,
 1.0,0.2,-0.7,-1.2,-0.3,0.6,0.0,-0.8,-1.4,-0.5,
 0.4,1.0,0.2,-0.7,-1.3,-0.4,0.5,0.9,0.0,-0.9,
 -1.4,-0.5,0.4,1.0,0.2,-0.7,-0.1,0.7,0.1,-0.8,
 -1.3,-0.4,0.5,1.0,0.1,-0.8,-1.4,-0.5,0.4,0.9,
 0.0,-0.9,-1.3,-0.3,0.6,0.1,-0.7,-1.2,-0.3,0.5,
 -0.4],
[-1.0,0.5,1.9,1.0,0.2,-0.4,0.6,1.5,0.3,-0.5,
 0.2,0.8,1.4,2.2,1.3,2.9,3.9,3.0,1.8,2.4,
 1.2,0.4,-0.2,0.6,0.1,-0.5,0.3,-0.3,0.5,-0.8,
 0.0,0.4,-0.6,0.2,0.7,-0.2,0.3,0.9,0.4,-0.4,
 0.2,-0.7,0.1,0.5,-0.3,0.3,1.4,2.0,0.8,0.1,
 -0.4,0.3,-0.2,0.5,0.0,-0.6,0.2,-0.3,0.4,-0.1,
 0.1],
[-0.3,0.7,1.2,0.2,-0.7,-1.2,-0.2,0.8,0.2,-0.6,
 -1.1,-0.1,0.9,1.3,0.3,-0.7,-1.3,-0.3,0.7,0.1,
 -0.8,-1.2,-0.2,0.8,1.2,0.2,-0.7,-0.1,0.9,1.4,
 0.4,-0.6,-1.2,-0.2,0.8,1.1,2.2,1.2,0.2,-0.8,
 -1.2,-0.2,0.8,0.1,-0.8,-1.3,-0.3,0.7,1.2,0.2,
 -0.7,-1.2,-0.2,0.8,0.2,-0.7,-1.1,-0.1,0.8,0.3,
 -0.5],
[3.1,2.2,1.3,0.4,-0.5,-1.3,-0.6,0.2,-2.4,-1.0,
 0.1,-0.8,0.5,-0.3,0.4,-1.1,-0.2,0.6,-0.7,0.3,
 -0.4,0.8,0.1,-0.9,0.2,-0.5,0.6,-0.2,0.4,-1.0,
 -0.3,0.5,-0.6,0.2,1.1,0.3,-0.4,0.6,-0.1,0.4,
 -0.8,0.2,0.7,-0.3,0.3,-0.6,0.5,0.1,-0.4,0.6,
 -0.2,0.4,-0.9,0.1,0.5,-0.5,0.3,-0.2,0.6,-0.6,
 0.0],
[0.9,0.1,-0.8,-1.4,-2.4,-1.0,0.1,0.9,0.2,-0.7,
 -1.2,-0.2,0.8,1.2,0.2,-0.8,-1.3,-0.3,0.7,1.1,
 0.2,-0.7,-0.1,0.9,1.3,0.3,-0.7,-1.2,-0.2,0.8,
 0.2,-0.7,-1.3,-0.3,0.7,1.2,0.2,-0.8,-0.1,0.8,
 1.3,0.3,-0.7,-1.2,-0.2,0.7,0.1,-0.8,-1.3,-0.3,
 0.7,1.1,0.1,-0.8,-0.2,0.7,1.2,0.2,-0.7,-1.1,
 0.1],
[0.2,-0.6,-1.1,-0.1,0.8,1.3,0.3,-0.6,-1.2,-0.2,
 0.7,0.1,-0.8,-1.3,-0.3,0.7,1.2,0.2,-0.7,-1.2,
 -0.1,0.8,0.2,-0.7,-1.3,-0.3,0.7,1.2,0.2,-0.7,
 -0.1,0.9,1.4,0.4,-0.6,-1.2,-0.2,0.7,0.1,-0.8,
 -1.2,-0.2,0.8,1.2,0.2,-0.7,-1.3,-0.3,0.7,1.1,
 0.1,-0.8,-1.2,-0.2,0.7,0.1,-0.7,-1.2,-0.2,0.7,
 0.0],
[0.9,-0.2,0.5,-0.7,0.2,1.1,0.3,-0.3,0.6,-1.4,
 -0.4,0.2,-0.5,0.4,-0.1,0.7,-0.3,0.3,-0.8,0.1,
 0.5,-0.2,0.3,-0.6,0.8,0.2,-0.4,0.4,-0.1,0.6,
 -0.5,0.1,-0.9,0.3,-0.2,0.5,-0.4,1.7,0.4,-0.3,
 0.2,-0.6,0.4,-0.1,0.6,-0.4,0.2,-0.8,-0.2,0.3,
 -0.1,0.5,-0.5,0.2,-1.2,-0.3,0.4,-0.4,0.2,-0.2,
 0.1],
[-0.5,0.4,-0.1,0.6,-0.4,0.1,0.5,-0.6,0.2,-0.2,
 0.4,-0.5,0.1,0.6,-0.3,0.2,-0.6,0.0,0.4,-0.3,
 0.1,-0.7,0.3,-0.1,0.5,-0.4,0.2,-0.2,0.6,-0.3,
 0.0,0.5,-0.4,0.2,-0.6,0.1,0.4,-0.2,0.3,-0.5,
 0.1,0.6,-0.2,0.2,-0.5,0.4,-0.1,0.3,-0.4,0.5,
 -0.2,0.1,-0.6,0.4,-0.1,0.2,-0.5,0.3,0.0,-0.3,
 0.2],
[0.2,-0.6,0.3,-0.2,0.5,-0.5,-0.1,0.4,-0.3,0.1,
 -0.6,0.2,-0.2,0.4,-0.5,0.1,0.3,-0.4,0.2,-0.1,
 -0.5,0.3,-0.2,0.1,-0.6,0.2,0.4,-0.3,0.0,-0.5,
 0.3,-0.2,0.2,-0.4,0.5,-0.1,0.2,-0.6,0.1,0.3,
 -0.3,0.1,-0.5,0.2,0.4,-0.2,0.0,-0.4,0.3,-0.1,
 0.2,-0.5,0.1,-0.2,0.4,-0.3,0.1,-0.1,0.3,-0.4,
 0.0],
[-0.1,0.3,-0.4,0.1,-0.2,0.4,-0.5,0.2,0.0,-0.4,
 0.2,-0.1,0.3,-0.5,0.1,-0.2,0.2,-0.3,0.4,-0.2,
 0.0,-0.4,0.2,-0.1,0.3,-0.5,0.0,0.2,-0.3,0.1,
 -0.2,0.3,-0.4,0.1,-0.1,0.3,-0.3,0.0,-0.5,0.2,
 -0.1,0.3,-0.2,0.1,-0.4,0.2,0.0,-0.3,0.1,-0.2,
 0.3,-0.1,0.2,-0.4,0.1,-0.2,0.2,-0.3,0.1,0.0,
 -0.2]
];
const mnLong = [
[0.6,1.2,0.3,-0.4,0.5,0.0,0.8,-0.3,0.4,1.3,
 0.6,0.1,-0.5,0.3,0.9,0.2,-0.2,0.5,2.2,1.4,
 0.6,0.0,0.4,-0.3,0.7,0.2,-0.5,0.3,0.8,0.1,
 -0.3,0.4,-0.1,0.6,-0.4,0.3,0.0,0.5,-0.2,0.2,
 0.7,1.4,2.1,2.3,1.2,0.5,-0.1,0.4,-0.3,0.2,
 0.6,-0.2,0.3,0.0,-0.4,0.5,0.1,-0.3,0.4,0.8,
 0.5,
 0.9,0.4,1.0,0.3,-0.2,0.5,0.1,-0.4,0.3,0.7,
 0.2,-0.3,0.4,0.0,-0.5,-0.1,0.3,-0.2,0.1,0.3],
[0.3,-0.6,0.1,0.7,-0.3,0.4,-0.8,0.0,0.5,-0.2,
 1.0,0.2,-0.4,0.3,-0.7,0.2,0.6,-0.1,0.3,-0.5,
 0.1,0.4,-0.3,0.6,0.0,-0.6,0.2,0.5,-0.2,0.3,
 0.9,0.2,-0.4,0.1,0.5,-0.3,0.2,-0.6,0.3,0.7,
 0.1,-0.4,0.3,0.6,-0.2,0.2,-0.5,0.4,0.0,-0.3,
 0.5,0.1,-0.4,0.2,0.6,-0.1,0.3,-0.5,0.2,0.4,
 0.1,
 0.3,-0.4,0.2,0.6,0.9,0.4,-0.1,0.3,0.7,0.2,
 -0.3,0.1,0.5,0.2,-0.2,0.3,-0.4,-0.1,-0.5,-0.3],
[-0.4,0.2,-0.9,0.3,-0.2,-0.7,0.4,-0.1,0.6,-0.5,
 0.1,-0.3,0.5,-0.8,0.0,0.3,-0.4,0.2,-0.6,0.4,
 -0.2,-0.8,0.1,0.4,-0.3,0.2,-0.5,0.5,0.0,-0.4,
 0.2,-0.6,0.3,-0.1,0.4,-0.7,0.1,0.3,-0.3,0.2,
 -0.5,0.4,0.1,-0.3,0.6,-0.2,0.3,-0.6,0.1,0.5,
 -0.1,0.3,-0.4,0.2,-0.2,0.5,-0.3,0.1,0.4,-0.2,
 0.0,
 0.4,-0.2,0.5,0.8,0.3,-0.1,0.5,0.2,-0.3,0.4,
 0.0,-0.4,0.2,0.6,0.1,-0.3,0.3,-0.2,0.4,0.8,
 0.5,0.9,1.3,0.8,1.5,1.9,2.3,1.7,2.6,2.0,
 1.4,1.8,1.2,0.9,1.3,0.7,1.1,0.6,1.0,1.6],
[0.8,0.1,-0.5,0.3,0.9,-0.2,0.4,-0.6,0.2,0.6,
 -0.3,0.3,-0.1,0.5,0.1,-0.6,0.2,0.4,-0.2,0.3,
 0.7,0.1,-0.4,0.2,-0.1,0.4,-0.7,0.0,0.3,-0.2,
 0.5,-0.1,0.2,-0.5,0.3,0.1,-0.3,0.4,-0.1,0.2,
 0.5,-0.2,0.3,-0.4,0.2,0.6,0.0,-0.3,0.4,-0.1,
 0.2,-0.5,0.3,0.0,0.5,-0.2,0.1,-0.4,0.3,0.6,
 0.3,
 0.6,0.2,0.9,0.4,0.0,0.5,-0.2,0.2,0.6,0.1,
 -0.3,0.1,-0.1,0.3,-0.2,-0.5,-0.1,-0.4,0.0,0.4,
 0.2,0.7,0.4,1.0,0.6,0.9,1.3,0.8,0.5,0.9,
 0.6,0.3,0.7,0.4,0.1,0.5,0.2,-0.1,0.2,-0.2]
];
const mnLongColors = [GOLD, CYAN, CYAN, CYAN];

// ---------------- P ----------------
const pTicks = [-2, 0, 2, 4];
const pRange = [-3.09, 4.35];
const pShort = [
[0.8,1.6,0.5,-0.7,-1.4,-0.2,1.0,1.8,0.7,-0.5,
 -1.3,-0.1,1.2,0.4,-0.8,-1.6,-0.4,0.9,1.6,0.5,
 -0.7,-1.5,-0.3,1.0,1.9,0.8,-0.4,-1.2,-0.1,1.1,
 0.3,-0.9,-1.7,-0.5,0.8,1.5,0.4,-0.8,-0.1,1.2,
 2.0,0.9,-0.4,-1.3,-0.2,1.0,0.3,-0.9,-1.6,-0.4,
 0.9,1.7,0.6,-0.6,-1.3,-0.1,1.1,1.9,0.8,-0.4,
 0.1],
[-0.5,0.7,1.6,0.6,-0.6,-1.4,-0.3,0.9,2.0,0.9,
 -0.3,-1.2,-0.1,1.1,0.4,-0.8,-1.6,-0.5,0.8,1.7,
 0.6,-0.6,-1.3,-0.2,1.0,2.1,1.0,-0.3,-1.1,0.1,
 1.3,0.5,-0.7,-1.5,-0.4,0.9,1.6,0.5,-0.7,-1.4,
 -0.2,1.1,2.3,1.1,-0.2,-1.0,0.2,1.4,0.6,-0.6,
 -1.4,-0.3,1.0,1.8,0.7,-0.5,-1.2,0.0,1.5,0.6,
 0.2],
[-1.8,-2.4,-1.2,0.1,1.0,0.2,-0.9,-1.7,-0.6,0.7,
 1.5,0.4,-0.8,-1.5,-0.3,1.0,1.7,0.6,-0.6,-1.4,
 -0.2,1.0,0.3,-0.9,-1.6,-0.4,0.9,1.6,0.5,-0.7,
 -1.3,-0.1,1.1,2.0,0.9,-0.4,-1.2,-0.1,1.0,0.3,
 -0.9,-1.6,-0.4,0.9,1.6,0.5,-0.7,-0.1,1.2,2.0,
 2.7,1.4,0.1,-1.0,-1.7,-0.5,0.8,1.5,0.4,-0.8,
 0.0],
[0.4,-0.8,-1.6,-0.5,0.7,1.4,0.2,-1.0,-1.8,-0.6,
 0.6,1.3,0.1,-1.1,-1.9,-0.7,0.5,1.2,0.2,-1.0,
 -1.6,-0.4,0.8,1.5,0.3,-0.9,-1.7,-0.6,0.6,1.3,
 0.2,-1.0,-0.3,0.9,1.6,0.4,-0.9,-1.6,-0.4,0.8,
 1.4,0.2,-1.0,-1.7,-0.5,0.7,1.3,0.1,-1.1,-0.4,
 0.8,1.5,0.3,-0.9,-1.8,-0.7,0.5,1.2,0.1,-1.0,
 -0.6],
[-2.2,-1.1,0.2,1.1,0.3,-0.8,-1.5,-0.3,0.9,1.6,
 0.5,-0.7,-1.4,-0.2,1.0,1.8,0.7,-0.5,-1.3,-0.1,
 1.0,0.2,-0.9,-1.6,-0.4,0.9,1.7,0.6,-0.6,-1.4,
 -0.3,0.9,1.6,0.4,-0.8,-0.1,1.1,1.8,0.7,-0.5,
 -1.3,-0.2,1.0,0.3,-0.9,-1.7,-0.5,0.8,1.6,0.5,
 -0.7,-1.4,-0.2,1.0,1.7,0.6,-0.6,-1.3,-0.1,1.0,
 0.4],
[0.2,1.0,1.7,0.5,-0.7,-1.5,-0.3,0.9,0.2,-0.9,
 -1.7,-0.5,0.8,1.5,0.3,-0.9,-1.6,-0.4,0.9,1.7,
 0.6,-0.6,-1.4,-0.2,1.1,0.4,-0.8,-1.5,-0.3,1.0,
 1.7,0.5,-0.7,-1.5,-0.3,1.0,0.2,-1.0,-1.8,-0.6,
 0.7,1.5,0.3,-0.9,-1.6,-0.4,0.9,1.6,0.4,-0.8,
 -0.1,1.1,1.8,0.6,-0.7,-1.5,-0.3,0.9,0.2,-0.9,
 0.1],
[1.0,0.2,-0.9,-1.6,-0.4,0.9,1.7,0.6,-0.6,-0.1,
 1.2,2.0,0.8,-0.5,-1.3,-0.1,1.1,1.8,0.6,-0.7,
 -1.4,-0.2,1.0,1.7,0.5,-0.7,-0.1,1.2,1.9,0.7,
 -0.6,-1.4,-0.2,1.0,0.3,-0.9,-1.6,-0.4,0.9,1.6,
 0.5,-0.7,-1.5,-0.3,1.0,1.8,0.7,-0.5,-1.3,-0.1,
 1.0,0.3,-0.9,-1.6,-0.4,0.9,1.7,0.5,-0.7,-1.4,
 0.3],
[-0.6,0.6,1.4,0.3,-0.9,-1.7,-0.5,0.8,1.5,0.4,
 -0.8,-0.1,1.1,1.8,0.6,-0.7,-1.5,-0.3,1.0,0.2,
 -1.0,-1.7,-0.5,0.8,1.6,0.5,-0.7,-1.4,-0.2,1.0,
 1.8,0.6,-0.7,-1.5,-0.3,0.9,0.2,-1.0,-1.7,-0.5,
 0.8,1.6,0.4,-0.8,-0.1,1.1,1.8,0.6,-0.7,-1.5,
 -0.3,1.0,0.3,-0.9,-1.6,-0.4,0.9,1.5,0.4,-0.8,
 0.2],
[1.0,-0.3,0.5,1.7,0.4,-0.6,0.8,0.1,-0.4,1.2,
 0.3,-0.2,2.0,0.9,-0.3,0.5,1.1,-0.1,0.4,-0.8,
 0.6,1.3,0.2,-0.4,0.7,-0.1,0.5,1.6,0.3,-0.5,
 0.2,0.9,-0.6,0.4,1.2,0.0,-0.3,0.6,-0.7,0.3,
 1.0,-0.2,0.5,-0.5,0.8,0.2,-0.4,1.1,0.3,-0.2,
 0.6,-0.6,0.4,1.3,0.1,-0.4,0.7,0.2,-0.5,0.8,
 0.3],
[-0.6,0.4,-0.2,0.8,-0.5,0.3,-0.9,0.2,0.6,-0.4,
 0.1,0.9,-0.3,0.4,-0.6,0.2,0.5,-0.8,0.3,0.7,
 -0.2,0.4,-0.7,0.1,0.8,-0.3,0.3,-0.1,0.6,-0.6,
 0.2,-0.4,0.5,0.1,-0.5,0.7,-0.2,0.4,-0.8,0.3,
 0.6,-0.3,0.2,-0.7,0.4,0.1,-0.4,0.5,-0.1,0.3,
 -0.6,0.4,0.1,-0.3,0.6,-0.5,0.2,-0.2,0.5,-0.4,
 0.2],
[0.3,-0.5,0.6,-0.1,1.0,0.2,-0.6,0.5,1.4,2.6,
 1.3,0.2,-0.4,0.6,-0.2,0.4,0.9,-0.5,0.1,-0.3,
 0.5,-0.6,0.2,0.8,-0.2,0.3,-0.7,0.4,0.1,0.9,
 -0.4,0.2,0.6,-0.3,0.3,-0.6,0.4,0.9,-0.1,0.5,
 -0.5,0.2,0.7,-0.2,0.4,-0.7,0.3,0.1,-0.4,0.6,
 0.2,-0.3,0.5,0.8,-0.2,0.4,-0.6,0.2,0.7,-0.1,
 0.3],
[-0.2,0.6,0.0,-0.7,0.4,-0.3,0.8,0.2,-0.5,0.5,
 -0.1,0.7,-0.4,0.2,0.5,-0.6,0.3,0.0,0.7,-0.3,
 0.4,-0.5,0.6,0.1,-0.2,0.5,-0.4,0.2,0.7,-0.1,
 0.4,-0.6,0.3,0.8,-0.2,0.4,-0.5,0.1,0.6,-0.3,
 0.2,0.5,-0.4,0.3,-0.1,0.6,-0.5,0.2,0.4,-0.2,
 0.7,-0.1,0.3,-0.5,0.4,0.0,0.6,-0.3,0.2,0.5,
 -0.1]
];
const pLong = [
[0.5,1.2,-0.2,0.6,-0.7,0.3,1.5,0.2,-0.5,0.8,
 -0.1,0.4,1.1,-0.6,0.3,0.9,-0.2,0.6,-0.9,0.2,
 0.7,-0.4,0.5,1.4,0.1,-0.3,0.6,-0.8,0.4,1.0,
 0.2,-0.5,0.3,0.9,-0.2,0.5,1.3,0.0,-0.6,0.4,
 0.8,-0.3,0.6,0.1,-0.5,0.9,1.6,0.4,-0.2,0.7,
 1.2,0.1,-0.4,0.6,0.2,1.1,-0.3,0.5,1.0,0.3,
 0.6,
 0.8,0.2,0.9,1.2,1.5,1.0,0.4,-0.3,-0.8,-0.4,
 0.2,-0.6,-1.0,-0.5,0.3,0.6,0.1,-0.4,0.2,0.5],
[-0.8,0.3,-0.4,0.6,-1.1,0.2,-0.3,0.7,-0.6,0.1,
 0.5,-0.9,0.2,-0.5,0.4,-0.2,0.8,-0.7,0.3,-0.4,
 0.6,-0.3,-1.2,0.1,0.5,-0.6,0.2,-0.2,0.7,-0.9,
 0.2,0.5,-0.4,0.1,-1.0,0.3,-0.3,0.6,-0.5,0.2,
 -0.7,0.4,-0.1,0.5,-0.8,0.2,0.6,-0.4,0.1,-1.1,
 0.3,-0.2,0.5,-0.6,0.2,0.7,-0.4,0.1,-0.8,0.3,
 0.5,
 0.3,-0.6,-1.2,-1.8,-2.0,-1.3,-0.7,-0.2,-0.6,0.1,
 -0.3,0.3,-0.2,-0.7,0.2,-0.4,0.1,0.4,-0.2,0.0],
[0.1,-0.5,0.7,-0.2,0.3,-0.8,0.4,1.0,-0.3,0.2,
 -0.6,0.5,0.1,-0.4,0.8,-0.1,-0.7,0.3,0.6,-0.2,
 0.4,-0.9,0.2,0.5,-0.3,0.7,0.0,-0.5,0.3,0.9,
 -0.2,0.4,-0.7,0.2,0.6,-0.4,0.1,0.5,-0.6,0.3,
 0.8,-0.1,0.3,-0.5,0.6,0.0,-0.3,0.5,0.2,-0.6,
 0.4,0.9,-0.2,0.3,-0.7,0.5,0.1,-0.4,0.6,0.2,
 0.7,
 0.4,0.0,-0.5,-0.9,-0.6,-0.2,-0.5,0.1,-0.3,0.2,
 -0.2,0.4,0.0,-0.5,-0.2,-0.7,-0.4,-0.9,-0.6,-0.2,
 -0.5,-0.1,0.3,-0.1,0.4,0.1,0.6,0.3,0.9,0.5,
 1.1,0.7,1.3,0.9,1.6,1.2,2.0,2.6,3.1,3.6],
[-0.3,0.4,-0.9,0.2,0.6,-0.4,0.1,-0.7,0.5,-0.2,
 0.3,-1.0,0.4,0.1,-0.5,0.6,-0.3,0.2,-0.8,0.5,
 0.0,0.4,-0.6,0.3,-0.2,0.6,-0.9,0.2,0.4,-0.3,
 0.5,-0.6,0.1,0.7,-0.4,0.2,-0.2,0.5,-0.9,0.1,
 0.4,-0.5,0.2,-0.1,0.7,-0.3,0.2,-0.6,0.5,0.0,
 -0.4,0.3,-0.2,0.6,-0.5,0.2,0.4,-0.3,0.1,0.6,
 0.2,
 0.5,0.1,-0.4,-0.2,-1.0,-0.5,0.0,-0.3,0.4,0.1,
 -0.2,0.3,-0.5,0.0,-0.3,0.2,-0.4,-0.8,-0.5,-1.0,
 -0.7,-1.2,-0.9,-1.4,-1.1,-1.6,-2.0,-1.5,-0.8,-0.2,
 0.5,1.0,0.4,-0.2,-0.5,-0.6]
];
const pLongColors = [GOLD, CYAN, CYAN, CYAN];

// ---------------- Sr ----------------
const srTicks = [-2, 0, 2];
const srRange = [-2.95, 3.56];
const srShort = [
[0.5,0.8,0.4,0.9,1.2,0.7,0.3,0.6,0.1,-0.3,
 0.2,-0.4,-0.1,0.4,0.0,-0.5,-0.2,0.3,0.7,0.5,
 0.1,-0.3,0.2,0.6,0.9,0.5,0.2,-0.2,0.3,0.0,
 -0.4,-0.1,-0.6,-0.3,-0.8,-0.4,-0.7,-1.1,-0.6,-0.3,
 0.1,-0.2,-0.6,-0.3,0.2,0.5,0.1,-0.4,-0.1,0.3,
 0.7,1.1,0.8,0.4,0.7,1.2,0.8,0.3,-0.2,0.1,
 -0.4],
[-0.9,-0.6,-1.0,-0.7,-0.3,-0.6,-0.9,-0.5,-0.2,0.3,
 0.1,0.5,0.9,0.6,0.2,0.6,1.0,0.7,0.3,-0.1,
 0.3,0.0,-0.4,0.2,0.6,1.0,1.4,1.2,1.6,2.0,
 2.1,1.9,1.8,1.6,1.9,1.5,1.0,0.5,0.1,-0.4,
 -0.8,-0.4,0.0,-0.5,-1.1,-1.7,-2.3,-2.6,-1.9,-1.2,
 -0.8,-0.4,-0.9,-0.5,-0.2,0.2,-0.2,0.4,0.8,0.3,
 0.0],
[1.3,1.8,2.1,2.0,1.6,1.1,0.6,1.0,1.4,1.2,
 0.7,0.3,0.6,0.2,-0.3,-0.9,-1.5,-2.2,-2.5,-1.8,
 -1.2,-0.8,-0.3,0.1,0.4,0.2,-0.3,-0.7,-0.4,0.0,
 0.4,0.8,0.6,0.9,0.7,0.5,0.8,0.6,0.4,0.7,
 0.5,0.8,0.6,0.3,0.0,-0.4,-0.1,0.3,-0.2,-0.6,
 -0.3,0.1,0.5,0.2,-0.2,-0.5,-0.1,0.3,0.0,-0.4,
 -0.2],
[0.2,-0.3,0.3,0.8,0.4,-0.1,0.2,0.6,1.0,0.7,
 0.3,0.6,0.1,-0.3,0.0,0.4,0.1,-0.4,-0.8,-1.3,
 -1.5,-1.1,-0.6,-0.2,0.2,0.6,0.3,0.8,1.1,0.7,
 0.4,0.0,-0.4,-0.1,0.3,0.6,0.2,-0.3,0.1,0.5,
 0.8,1.1,1.3,0.9,0.5,0.1,0.4,0.7,0.3,-0.1,
 0.2,-0.3,-0.7,-0.4,0.0,0.4,0.7,0.5,0.9,1.2,
 1.0],
[1.4,0.9,0.4,0.0,-0.4,-0.8,-0.5,-0.1,0.3,0.7,
 0.4,0.0,-0.5,-1.0,-1.4,-1.8,-1.9,-1.6,-1.9,-1.4,
 -1.0,-0.6,-0.2,0.2,0.6,0.9,0.6,0.2,-0.2,-0.6,
 -1.0,-1.4,-1.0,-0.6,-0.2,0.2,0.6,0.9,1.2,0.8,
 0.4,0.1,-0.3,0.1,0.5,0.2,-0.2,0.2,0.6,0.3,
 -0.1,0.3,0.6,0.3,0.0,0.4,0.8,0.5,0.1,0.4,
 0.6],
[-1.5,-1.6,-1.3,-0.8,-0.3,0.2,0.7,1.3,1.8,1.4,
 0.9,0.5,0.0,-0.5,-0.2,0.2,-0.3,-0.8,-0.4,0.0,
 -0.4,-0.9,-1.3,-1.7,-1.3,-0.8,-1.2,-1.7,-2.2,-1.8,
 -1.3,-0.8,-0.3,0.2,-0.2,-0.6,-0.2,0.2,0.6,1.0,
 1.3,0.9,0.5,0.1,-0.3,0.0,0.4,0.8,0.5,0.1,
 -0.3,-0.7,-0.4,0.0,0.4,0.1,-0.3,0.1,-0.2,0.2,
 0.0],
[0.6,0.2,-0.2,0.3,0.7,0.4,0.0,-0.4,-0.8,-0.5,
 -0.1,0.3,0.7,0.4,0.1,-0.3,0.1,0.5,0.2,0.6,
 0.9,0.5,1.1,1.6,3.2,1.8,1.0,0.6,0.2,-0.2,
 -0.6,-0.3,0.1,0.5,0.9,1.3,1.5,1.4,1.2,0.8,
 0.3,-0.2,-0.6,-1.1,-1.5,-1.2,-0.7,-1.3,-1.7,-1.2,
 -0.7,-0.3,-0.8,-0.4,0.0,0.5,0.9,0.6,1.0,1.4,
 1.2],
[-0.5,0.0,0.5,0.2,-0.2,-0.6,-1.0,-0.7,-0.3,0.1,
 0.5,0.2,0.6,0.3,-0.1,0.3,0.7,0.4,0.0,-0.4,
 -0.1,0.3,0.0,-0.4,-0.8,-0.5,-0.1,0.3,0.6,0.3,
 -0.1,-0.5,-0.9,-0.6,-0.2,0.2,-0.2,-0.6,-1.0,-0.7,
 -0.3,0.0,-0.4,-0.8,-0.5,-0.1,0.3,0.0,-0.4,-0.8,
 -1.2,-0.8,-0.4,-0.7,-0.3,0.1,0.4,0.1,-0.2,0.2,
 0.5],
[0.9,0.5,0.1,-0.3,0.1,0.5,1.0,1.4,1.1,1.5,
 1.8,2.8,1.6,1.1,0.6,0.2,-0.2,0.2,0.6,0.3,
 -0.1,0.4,0.9,1.3,1.8,1.4,0.9,0.5,0.1,-0.3,
 0.1,0.5,0.2,-0.2,-0.6,-1.0,-0.6,-1.0,-1.4,-1.0,
 -0.6,-0.2,0.2,-0.2,-0.6,-0.2,0.2,0.6,1.0,1.4,
 1.1,0.7,0.3,-0.1,0.3,0.7,1.1,1.5,1.2,0.8,
 0.4],
[0.0,0.4,0.8,0.5,0.1,-0.3,-0.7,-0.4,0.0,0.4,
 0.1,-0.3,0.1,0.5,0.2,-0.2,0.2,0.6,0.3,-0.1,
 0.3,0.0,0.4,0.1,-0.3,0.1,0.5,0.9,0.5,0.1,
 -0.3,0.1,-0.3,-0.7,-0.4,0.0,0.4,0.1,-0.3,-0.6,
 -0.3,0.1,0.4,0.1,-0.3,-0.7,-0.4,0.0,0.4,0.1,
 -0.3,-0.6,-0.2,0.2,0.6,0.3,-0.1,0.3,0.0,-0.4,
 -0.1],
[0.9,0.3,1.1,0.6,1.3,0.8,0.2,0.7,-0.1,0.4,
 -0.4,0.2,-0.6,-0.1,-0.8,-0.3,0.3,-0.2,0.5,0.9,
 0.3,0.8,1.2,0.6,1.0,0.4,-0.2,0.3,-0.5,-0.1,
 -0.7,-0.2,0.4,-0.1,0.6,0.2,-0.4,0.1,-0.7,-0.3,
 -1.0,-0.5,-1.3,-0.8,-0.3,-0.9,-0.4,0.2,-0.3,0.4,
 0.0,0.6,0.1,-0.5,-0.1,-0.8,-0.3,0.3,-0.2,0.5,
 0.1],
[-0.7,-0.1,-0.9,-0.4,0.2,-0.3,0.5,0.1,0.8,0.3,
 -0.3,0.2,-0.5,-1.1,-0.6,-1.3,-0.8,-0.2,-0.7,-0.1,
 0.4,0.0,0.7,1.2,0.6,1.0,0.4,-0.2,0.3,-0.3,
 0.2,0.8,0.3,-0.3,0.2,-0.4,-1.0,-0.5,-1.2,-0.7,
 -0.2,-0.8,-1.4,-0.9,-0.4,0.1,-0.4,0.2,0.6,0.1,
 -0.5,0.0,-0.6,-0.1,0.5,0.0,0.6,1.0,0.5,0.9,
 0.4]
];
const srLong = [
[-0.4,-0.7,-0.9,-0.6,-0.8,-0.5,-0.2,0.2,0.6,1.0,
 1.3,0.9,0.5,0.8,1.2,0.8,0.4,0.0,-0.4,-0.8,
 -0.4,0.0,0.4,0.8,0.5,0.9,1.3,1.6,1.2,0.8,
 0.4,0.0,-0.3,-0.6,-0.9,-0.6,-0.2,0.2,-0.1,-0.5,
 -0.9,-0.5,-0.1,0.3,0.7,0.4,0.0,-0.4,-0.1,0.3,
 0.0,-0.4,-0.8,-0.5,-0.1,0.3,0.6,0.3,-0.1,0.3,
 0.7,
 1.5,1.2,0.6,0.1,-0.4,-0.8,-0.6,-0.3,-0.5,-0.1,
 0.4,0.9,1.3,1.0,0.8,0.6,0.5,0.3,0.2,0.5],
[0.8,0.4,0.0,-0.4,-0.1,0.3,0.7,1.0,0.7,0.3,
 -0.1,-0.5,-0.9,-0.6,-0.2,0.2,0.5,0.2,-0.2,-0.5,
 -0.2,0.2,0.6,0.3,-0.1,-0.5,-0.2,0.2,-0.2,-0.6,
 -1.0,-1.3,-1.0,-0.6,-0.2,0.2,0.0,-0.4,-0.1,0.3,
 0.7,0.4,0.0,0.4,0.8,0.5,0.1,-0.3,0.1,0.5,
 0.2,-0.2,0.2,0.6,1.0,0.6,0.2,0.6,1.0,0.7,
 0.4,
 0.8,0.3,-0.1,-0.5,-0.9,-1.1,-0.7,-0.3,0.1,0.6,
 1.2,1.6,1.4,1.1,0.9,0.7,0.5,0.1,-0.3,-0.4],
[-0.2,-0.6,-1.0,-1.4,-1.1,-0.7,-0.3,0.1,-0.3,-0.7,
 -0.3,0.1,0.5,0.2,-0.2,-0.6,-0.2,0.2,0.6,0.9,
 0.6,0.2,-0.2,0.2,0.6,0.3,0.7,1.0,0.7,0.3,
 0.0,-0.4,-0.8,-0.5,-0.1,-0.4,-0.8,-0.4,0.0,-0.3,
 -0.7,-1.0,-0.7,-0.3,0.1,-0.2,-0.6,-0.3,0.1,0.4,
 0.1,-0.3,-0.7,-0.4,-0.8,-1.2,-0.8,-0.4,-0.1,-0.4,
 -0.7,
 -0.5,-0.2,0.2,0.4,0.2,-0.1,-0.4,-0.6,-0.3,-0.1,
 0.3,0.8,1.2,1.5,1.3,1.2,1.0,1.1,0.9,0.8,
 1.0,0.8,0.7,0.5,0.3,0.4,0.1,0.0,-0.1,0.1,
 0.0,0.2,0.5,0.6,0.4,-0.2,-0.7,-0.9,-0.8,-0.9],
[0.3,0.7,1.1,0.8,0.4,0.0,-0.4,-0.1,0.3,0.0,
 -0.4,-0.8,-0.5,-0.1,0.3,0.7,0.4,0.0,-0.4,-0.7,
 -0.3,0.1,0.5,0.9,1.2,0.8,0.4,0.0,0.3,0.7,
 0.4,0.0,0.3,-0.1,-0.5,-0.2,0.2,0.5,0.2,-0.2,
 -0.5,-0.2,0.2,0.6,0.3,-0.1,-0.5,-0.2,0.2,-0.1,
 -0.5,-0.9,-0.6,-0.2,0.2,0.5,0.2,-0.2,0.1,0.4,
 0.1,
 -0.1,-0.5,-0.9,-1.2,-1.4,-1.0,-0.6,-0.2,0.3,0.8,
 1.3,1.6,1.5,1.3,1.1,1.2,1.0,0.8,0.9,0.6,
 0.4,0.5,0.2,0.1,-0.1,0.0,0.1,-0.1,0.1,0.3,
 0.5,0.7,0.5,0.3,0.5,0.4,0.3,0.1,0.2,0.2]
];
const srLongColors = [GOLD, CYAN, CYAN, CYAN];

// ---------------- Zn ----------------
const znTicks = [-2, 0, 2];
const znRange = [-3.77, 3.72];
const znShort = [
[2.4,1.0,-0.6,-1.9,-3.0,-1.5,0.1,1.3,2.0,0.7,
 -0.6,-1.6,-0.4,1.0,1.8,0.5,-0.9,-1.7,-0.4,1.1,
 1.9,0.6,-0.8,-1.7,-0.5,0.9,2.2,1.0,-0.4,-1.5,
 -0.3,1.0,1.7,0.4,-1.0,-2.0,-0.8,0.6,1.4,0.2,
 -1.1,-1.8,-0.6,0.8,1.6,0.4,-0.9,-1.6,-0.3,1.0,
 1.7,0.5,-0.8,-1.8,-0.6,0.8,1.5,0.3,-1.0,-1.6,
 -0.8],
[-0.6,1.0,2.5,1.2,-0.3,-1.5,-0.4,0.9,1.8,0.5,
 -0.9,-1.8,-0.6,0.8,2.1,0.9,-0.5,-1.4,-0.2,1.1,
 0.3,-1.0,-1.9,-0.7,0.7,1.5,0.3,-1.0,-1.8,-0.5,
 0.8,1.6,2.3,1.0,-0.4,-1.3,-0.1,1.2,0.4,-0.8,
 -1.6,-0.4,0.9,1.7,2.6,1.2,-0.2,-1.3,-0.1,1.1,
 0.3,-1.0,-1.7,-0.5,0.8,2.0,1.1,-0.3,-1.2,-2.0,
 -2.0],
[1.5,0.3,-1.0,-1.8,-0.5,0.9,2.0,3.3,1.7,0.2,
 -1.1,-0.2,1.3,2.8,1.3,-0.2,-1.3,-2.1,-0.8,0.6,
 1.6,2.9,1.4,-0.1,-1.2,-0.3,1.0,0.2,-1.0,-1.7,
 -0.5,0.9,2.2,0.9,-0.5,-1.4,-0.2,1.1,0.3,-0.9,
 -1.7,-0.4,1.0,1.7,0.5,-0.8,-1.5,-0.3,1.0,0.2,
 -1.0,-1.8,-0.6,0.8,2.3,1.0,-0.4,-1.3,-0.1,1.0,
 0.4],
[-1.6,-0.3,1.0,0.1,-1.5,-3.4,-1.9,-0.4,0.8,1.5,
 0.3,-1.0,-1.7,-0.5,0.8,1.6,0.4,-0.9,-2.0,-0.8,
 0.5,1.3,0.1,-1.2,-3.1,-1.6,-0.2,0.9,1.6,0.4,
 -0.9,-1.6,-0.3,1.0,1.7,0.5,-0.8,-1.5,-0.2,1.1,
 0.3,-1.0,-1.8,-0.5,0.9,1.6,0.4,-0.9,-1.7,-0.4,
 0.9,1.6,0.3,-1.0,-0.2,1.1,1.8,0.6,-0.7,-1.4,
 0.2],
[0.9,-0.5,-1.6,-0.4,1.0,2.4,1.1,-0.3,-1.2,0.0,
 1.2,0.3,-0.9,-1.8,-0.6,0.8,1.6,0.4,-0.9,-1.6,
 -0.4,-2.2,-1.0,0.4,1.4,0.2,-1.0,-1.7,-0.4,1.0,
 1.9,0.7,-0.6,-1.4,-0.2,1.1,0.3,-1.0,-2.3,-1.0,
 0.3,1.3,2.0,0.8,-0.5,-1.3,-0.1,1.2,1.8,2.6,
 1.2,-0.2,-1.2,-0.1,1.1,0.3,-0.9,-1.7,-0.5,0.9,
 -0.3],
[-0.3,0.8,1.6,0.4,-0.9,-1.7,-0.5,0.8,1.5,0.3,
 -1.0,-1.8,-0.6,0.7,1.4,0.2,-1.0,-0.3,1.0,1.8,
 0.6,-0.7,-1.5,-0.3,1.0,0.2,-1.1,-1.9,-0.7,0.6,
 1.4,0.2,-1.0,-1.7,-0.5,0.8,1.6,0.4,-0.8,-0.1,
 1.1,1.8,0.6,-0.7,-1.5,-0.3,1.0,0.2,-1.1,-1.8,
 -0.6,0.7,1.5,0.3,-0.9,-1.6,-0.4,0.9,0.2,-1.0,
 -0.5],
[-2.0,-0.9,0.4,1.3,0.3,-0.9,-1.7,-0.5,0.8,1.6,
 0.4,-0.8,-0.1,1.2,1.9,0.7,-0.6,-1.4,-0.2,1.0,
 0.2,-1.0,-1.8,-0.6,0.7,1.5,0.4,-0.8,-1.6,-0.4,
 0.9,1.7,0.5,-0.8,-0.1,1.1,1.8,0.6,-0.7,-1.5,
 -0.3,1.0,0.3,-0.9,-2.5,-1.2,0.2,1.1,1.8,0.6,
 -0.6,-1.4,-0.2,1.0,0.3,-0.9,-1.6,-0.4,0.9,1.8,
 1.2],
[1.0,-0.2,-1.3,-0.3,0.9,1.7,0.5,-0.8,-1.6,-0.4,
 0.9,0.2,-1.0,-1.7,-0.5,0.8,1.5,0.3,-1.0,-0.2,
 1.1,1.8,0.6,-0.7,-1.5,-0.3,1.0,1.7,0.5,-0.8,
 -0.1,1.1,0.3,-0.9,-1.7,-0.5,0.8,1.6,0.4,-0.9,
 -1.6,-0.4,0.9,0.1,-1.1,-1.8,-0.6,0.7,1.5,0.3,
 -0.9,-0.2,1.1,1.8,0.6,-0.7,-1.4,-0.2,1.0,0.3,
 0.1],
[-2.0,-0.8,0.4,-0.3,1.3,0.5,-0.7,0.9,-1.3,0.2,
 1.6,-0.2,0.8,-0.9,0.3,1.2,-0.5,0.6,-1.4,0.4,
 0.9,-0.6,0.3,1.4,-0.2,-1.8,0.5,0.8,-0.7,0.3,
 1.1,-0.4,0.6,-1.2,0.2,0.9,-0.5,1.5,0.3,-0.9,
 0.4,-0.3,1.0,-1.1,0.6,0.2,-2.5,-0.8,0.5,1.3,
 -0.3,0.6,-1.0,0.4,1.2,-0.2,0.5,-0.8,1.1,0.3,
 3.0],
[1.0,-0.5,0.6,-1.1,0.3,0.9,-0.4,0.2,-0.9,0.6,
 1.1,-0.3,0.4,-1.0,0.7,-0.2,0.5,-0.7,0.9,0.2,
 -0.5,0.6,-1.1,0.3,0.8,-0.4,0.2,-0.8,0.6,1.0,
 -0.3,0.4,-0.9,0.5,-0.2,0.8,-1.0,0.3,0.6,-0.5,
 0.9,-0.2,0.4,-0.8,0.3,1.0,-0.5,0.2,-1.1,0.6,
 0.2,-0.4,0.8,-0.7,0.3,0.5,-1.0,0.4,-0.2,0.7,
 0.1],
[0.3,1.4,-0.4,0.8,-1.0,0.5,1.2,-0.6,0.3,-0.2,
 0.9,-0.8,0.4,1.1,-0.3,0.6,-1.2,0.2,0.8,-0.5,
 0.4,1.0,-0.7,0.3,-0.4,0.9,0.1,-1.0,0.5,-0.2,
 0.7,-0.9,0.3,1.0,-0.4,0.2,-0.8,0.6,0.1,-0.6,
 1.0,0.3,-0.5,0.7,-1.2,0.2,0.6,-0.3,0.9,-0.8,
 0.4,-0.2,1.1,-0.6,0.3,0.8,-0.9,0.5,-0.4,0.6,
 0.2],
[0.8,-0.2,0.5,-0.8,0.9,0.2,-0.5,1.0,-0.3,0.4,
 -0.7,0.6,0.0,-0.5,0.8,-0.2,0.4,-0.9,0.5,1.0,
 -0.3,0.2,0.7,-0.6,0.4,-0.2,0.9,-0.8,0.3,0.6,
 -0.4,0.2,0.8,-0.7,0.5,-0.3,0.9,0.1,-0.6,0.4,
 -0.2,0.7,-0.9,0.3,0.6,-0.4,0.2,0.8,-0.6,0.3,
 -0.1,0.6,-0.8,0.4,-0.2,0.7,0.0,-0.5,0.4,-0.9,
 0.5]
];
const znLong = [
[-0.8,0.5,1.8,-0.3,0.7,-1.1,0.4,1.3,-0.6,0.2,
 -1.4,0.6,1.0,-0.2,0.5,-0.9,1.6,0.3,-0.5,0.8,
 -1.0,0.4,1.2,-0.4,0.7,2.0,0.3,-0.8,0.5,-0.3,
 1.1,-1.2,0.4,0.8,-0.5,0.2,1.5,-0.7,0.6,-0.2,
 0.9,-0.6,0.3,1.3,-0.9,0.5,0.0,2.2,0.6,-0.4,
 0.3,-1.0,0.8,0.2,-0.5,1.4,2.4,0.7,-0.3,0.9,
 0.5,
 1.1,0.4,-0.3,0.6,-0.9,0.2,-0.4,0.5,-0.2,0.3,
 -0.6,-0.1,0.4,-0.5,0.2,-0.8,-0.3,0.6,1.0,-0.5],
[0.4,-0.9,0.7,-0.2,1.1,-0.6,0.3,-1.3,0.5,0.9,
 -0.4,0.2,-0.8,1.4,0.3,-0.5,0.8,-1.1,0.4,-0.3,
 1.0,-0.7,0.5,0.1,-1.2,0.6,-0.2,0.9,-0.6,0.3,
 1.3,-0.4,0.2,-1.0,0.7,0.3,-0.6,1.1,-0.3,0.5,
 -0.9,0.4,0.8,-0.5,0.2,-1.3,0.6,1.0,-0.2,0.4,
 -0.7,0.9,0.3,-0.4,1.2,-0.6,0.5,1.6,0.2,-0.3,
 0.6,
 0.2,-0.5,-1.2,-2.6,-0.8,0.3,-0.4,0.6,-0.2,-0.8,
 -0.5,-1.0,-0.6,-1.3,-2.3,-1.0,-0.6,-1.1,0.2,1.1],
[-0.5,0.8,0.2,-1.0,0.6,-0.3,1.2,-0.7,0.4,0.0,
 -1.1,0.5,0.9,-0.4,0.3,-0.8,0.6,1.3,-0.2,0.4,
 -0.9,0.2,0.7,-0.5,0.3,1.0,-0.6,0.2,-1.2,0.6,
 0.1,-0.4,0.9,-0.7,0.3,-0.2,0.8,-1.0,0.4,-0.3,
 0.7,1.1,-0.5,0.3,-0.9,0.5,-0.1,0.6,-1.4,-0.2,
 0.5,-0.6,1.0,0.2,-0.8,0.4,-0.3,0.9,-1.0,0.5,
 1.3,
 0.8,1.5,0.9,0.3,1.4,0.7,0.2,-0.3,0.4,-0.6,
 -0.2,-0.9,-1.3,-0.7,-1.1,-0.5,-1.4,-1.9,-1.2,-1.6,
 -2.1,-1.4,-2.2,-1.5,-0.9,-1.5,-0.8,-0.4,-0.9,-0.2,
 0.1,-0.4,0.3,0.9,0.5,1.3,1.9,2.2,2.6,3.0],
[0.2,-0.4,1.0,-0.8,0.3,0.7,-1.2,0.5,-0.3,0.9,
 0.4,-0.6,0.2,1.1,-0.5,0.3,-1.0,0.6,0.1,-0.7,
 0.5,0.9,-0.3,0.4,-0.9,0.2,0.6,-0.4,1.0,-0.2,
 -0.8,0.4,0.1,-0.5,0.8,-1.1,0.3,0.6,-0.2,0.9,
 0.3,-0.7,0.5,-0.2,1.0,-0.4,0.2,-0.9,0.6,0.3,
 -0.5,1.1,-0.1,0.4,-0.8,0.2,0.7,-0.4,0.3,-0.6,
 0.8,
 0.4,-0.3,0.9,0.2,-0.5,0.4,1.2,0.5,-0.1,-0.6,
 -0.2,-0.8,-0.4,-1.0,-0.6,-1.5,-1.0,-0.7,-1.3,-0.6,
 -1.1,-1.8,-1.2,-0.7,-0.3,-0.8,-0.2,0.3,-0.3,-0.9,
 -1.3,-0.8,-0.3,0.2,0.5,0.3,0.8,1.0,1.0,1.0]
];
const znLongColors = [GOLD, CYAN, CYAN, CYAN];

// ---------------- layout ----------------
const W = 1243, H = 651;
const columnLeft = [69, 680];
const columnRight = [633, 1243];
const rowTop = [9, 167, 313, 461];
const rowBottom = [143, 290, 437, 595];
const titleBaseline = [32, 188, 334, 479];
const titleCenter = [326, 972];
const X_DOMAIN = [0.75, 6.25];
const X_SPAN = 565.5;

const panels = [
  { name: "Ba", col: 0, row: 0, range: baRange, ticks: baTicks, short: baShort, long: baLong, longColors: baLongColors, decimals: 1 },
  { name: "Co", col: 1, row: 0, range: coRange, ticks: coTicks, short: coShort, long: coLong, longColors: coLongColors, decimals: 0 },
  { name: "Cu", col: 0, row: 1, range: cuRange, ticks: cuTicks, short: cuShort, long: cuLong, longColors: cuLongColors, decimals: 0 },
  { name: "Mg", col: 1, row: 1, range: mgRange, ticks: mgTicks, short: mgShort, long: mgLong, longColors: mgLongColors, decimals: 0 },
  { name: "Mn", col: 0, row: 2, range: mnRange, ticks: mnTicks, short: mnShort, long: mnLong, longColors: mnLongColors, decimals: 0 },
  { name: "P",  col: 1, row: 2, range: pRange,  ticks: pTicks,  short: pShort,  long: pLong,  longColors: pLongColors,  decimals: 0 },
  { name: "Sr", col: 0, row: 3, range: srRange, ticks: srTicks, short: srShort, long: srLong, longColors: srLongColors, decimals: 0 },
  { name: "Zn", col: 1, row: 3, range: znRange, ticks: znTicks, short: znShort, long: znLong, longColors: znLongColors, decimals: 0 }
];

const svg = d3.select("body").append("svg")
  .attr("width", W).attr("height", H)
  .attr("viewBox", `0 0 ${W} ${H}`);

svg.append("rect").attr("width", W).attr("height", H).attr("fill", "#ffffff");

const TICK_FONT = "'DejaVu Sans', 'Open Sans', sans-serif";
const LABEL_FONT = "'Liberation Sans', Arial, sans-serif";

function midpoints(values, lo, hi) {
  const out = [];
  const step = values.length > 1 ? values[1] - values[0] : 1;
  let v = values[0] - step / 2;
  while (v >= lo) { out.push(v); v -= step; }
  values.forEach((t, i) => { if (i < values.length - 1) out.push((t + values[i + 1]) / 2); });
  v = values[values.length - 1] + step / 2;
  while (v <= hi) { out.push(v); v += step; }
  return out;
}

panels.forEach(p => {
  const left = columnLeft[p.col], right = columnRight[p.col];
  const top = rowTop[p.row], bottom = rowBottom[p.row];
  const x = d3.scaleLinear().domain(X_DOMAIN).range([left, left + X_SPAN]);
  const y = d3.scaleLinear().domain(p.range).range([bottom, top]);

  const g = svg.append("g").attr("class", "panel panel-" + p.name);

  g.append("rect")
    .attr("x", left).attr("y", top)
    .attr("width", right - left).attr("height", bottom - top)
    .attr("fill", "#EBEBEB");

  const grid = g.append("g").attr("class", "grid");
  // minor grid
  midpoints(p.ticks, p.range[0], p.range[1]).forEach(v => {
    grid.append("line").attr("x1", left).attr("x2", right)
      .attr("y1", y(v)).attr("y2", y(v))
      .attr("stroke", "#ffffff").attr("stroke-width", 0.5).attr("opacity", 0.7);
  });
  midpoints(xTicks, X_DOMAIN[0], X_DOMAIN[1]).forEach(v => {
    grid.append("line").attr("y1", top).attr("y2", bottom)
      .attr("x1", x(v)).attr("x2", x(v))
      .attr("stroke", "#ffffff").attr("stroke-width", 0.5).attr("opacity", 0.7);
  });
  // major grid
  p.ticks.forEach(v => {
    grid.append("line").attr("x1", left).attr("x2", right)
      .attr("y1", y(v)).attr("y2", y(v))
      .attr("stroke", "#ffffff").attr("stroke-width", 1);
  });
  xTicks.forEach(v => {
    grid.append("line").attr("y1", top).attr("y2", bottom)
      .attr("x1", x(v)).attr("x2", x(v))
      .attr("stroke", "#ffffff").attr("stroke-width", 1);
  });

  const line = d3.line()
    .x((d, i) => x(AGE_START + i * AGE_STEP))
    .y(d => y(d));

  const lines = g.append("g").attr("class", "fish-lines")
    .attr("fill", "none").attr("stroke-width", 1.3)
    .attr("stroke-linejoin", "round").attr("stroke-linecap", "round");

  p.long.forEach((s, k) => {
    lines.append("path").attr("d", line(s)).attr("stroke", p.longColors[k]);
  });
  p.short.forEach((s, k) => {
    lines.append("path").attr("d", line(s)).attr("stroke", fishColors[k % fishColors.length]);
  });

  // element name
  g.append("text")
    .attr("x", titleCenter[p.col]).attr("y", titleBaseline[p.row])
    .attr("text-anchor", "middle")
    .attr("font-family", LABEL_FONT)
    .attr("font-weight", "bold")
    .attr("font-size", 22)
    .attr("fill", "#000000")
    .text(p.name);

  // y axis
  const fmt = d => p.decimals ? d.toFixed(p.decimals) : String(d);
  const yAxis = g.append("g")
    .attr("transform", `translate(${left},0)`)
    .call(d3.axisLeft(y).tickValues(p.ticks).tickSize(4).tickPadding(3).tickFormat(fmt));
  yAxis.select(".domain").remove();
  yAxis.selectAll(".tick line").attr("stroke", "#8a8a8a");
  yAxis.selectAll(".tick text")
    .attr("font-family", TICK_FONT).attr("font-size", 11.5).attr("fill", "#5a5a5a");

  // x axis only below the bottom row
  if (p.row === 3) {
    const xAxis = g.append("g")
      .attr("transform", `translate(0,${bottom})`)
      .call(d3.axisBottom(x).tickValues(xTicks).tickSize(4).tickPadding(6).tickFormat(d => String(d)));
    xAxis.select(".domain").remove();
    xAxis.selectAll(".tick line").attr("stroke", "#8a8a8a");
    xAxis.selectAll(".tick text")
      .attr("font-family", TICK_FONT).attr("font-size", 11.5).attr("fill", "#5a5a5a");
  }
});

// axis titles
svg.append("text")
  .attr("transform", "translate(37,316) scale(1.25,1) rotate(-90)")
  .attr("text-anchor", "middle")
  .attr("font-family", LABEL_FONT)
  .attr("font-size", 24)
  .attr("fill", "#000000")
  .attr("textLength", 292)
  .attr("lengthAdjust", "spacingAndGlyphs")
  .text("Standardized Concentration");

svg.append("text")
  .attr("x", 663.5).attr("y", 642)
  .attr("text-anchor", "middle")
  .attr("font-family", LABEL_FONT)
  .attr("font-size", 20)
  .attr("fill", "#000000")
  .attr("textLength", 115)
  .attr("lengthAdjust", "spacingAndGlyphs")
  .text("Annuli/Age");
</script>
</body>
</html>
